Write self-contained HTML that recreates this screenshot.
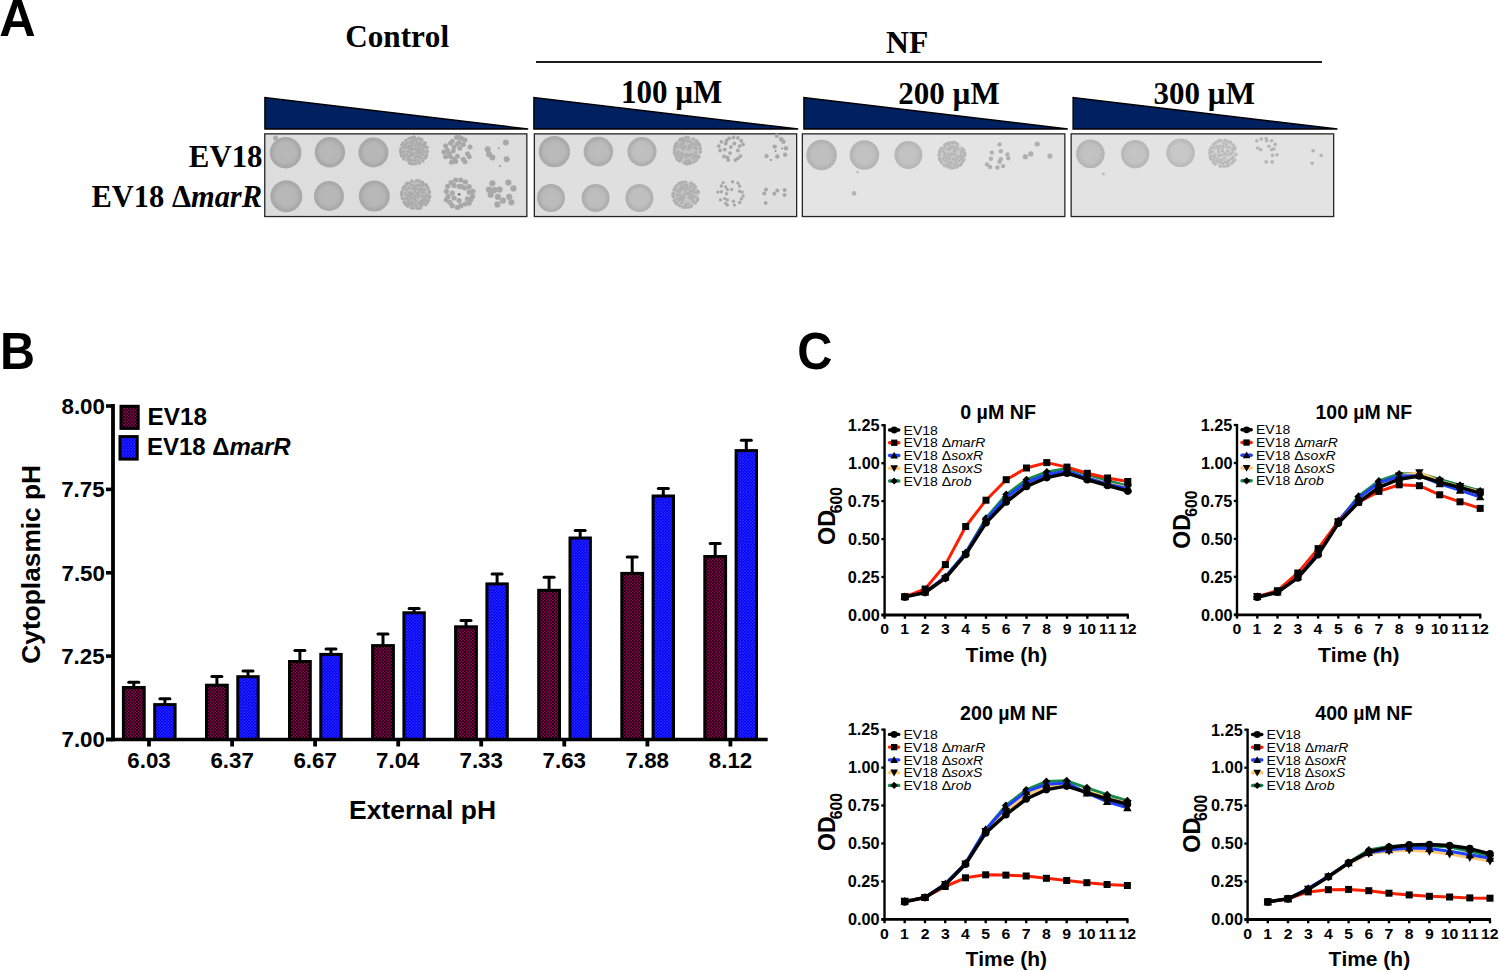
<!DOCTYPE html>
<html><head><meta charset="utf-8"><style>
html,body{margin:0;padding:0;background:#fff;}
svg{display:block;}
text{font-family:"Liberation Sans",sans-serif;}
</style></head><body>
<svg width="1499" height="972" viewBox="0 0 1499 972">
<defs>
<pattern id="pm" width="3.2" height="3.2" patternUnits="userSpaceOnUse"><rect width="3.2" height="3.2" fill="#0a0008"/><rect width="1.6" height="1.6" fill="#950050"/><rect x="1.6" y="1.6" width="1.6" height="1.6" fill="#950050"/></pattern>
<pattern id="pb" width="3.1" height="3.1" patternUnits="userSpaceOnUse"><rect width="3.1" height="3.1" fill="#0000ff"/><rect x="0.4" y="0.4" width="1" height="1" fill="#6262e0"/><rect x="1.95" y="1.95" width="1" height="1" fill="#6262e0"/></pattern>
<radialGradient id="g182_170"><stop offset="0" stop-color="rgb(185,185,185)"/><stop offset="0.65" stop-color="rgb(182,182,182)"/><stop offset="0.85" stop-color="rgb(170,170,170)"/><stop offset="1" stop-color="rgb(168,168,168)"/></radialGradient><radialGradient id="g184_172"><stop offset="0" stop-color="rgb(187,187,187)"/><stop offset="0.65" stop-color="rgb(184,184,184)"/><stop offset="0.85" stop-color="rgb(172,172,172)"/><stop offset="1" stop-color="rgb(170,170,170)"/></radialGradient><radialGradient id="g186_174"><stop offset="0" stop-color="rgb(189,189,189)"/><stop offset="0.65" stop-color="rgb(186,186,186)"/><stop offset="0.85" stop-color="rgb(174,174,174)"/><stop offset="1" stop-color="rgb(172,172,172)"/></radialGradient><radialGradient id="g190_176"><stop offset="0" stop-color="rgb(193,193,193)"/><stop offset="0.65" stop-color="rgb(190,190,190)"/><stop offset="0.85" stop-color="rgb(176,176,176)"/><stop offset="1" stop-color="rgb(174,174,174)"/></radialGradient><radialGradient id="g188_176"><stop offset="0" stop-color="rgb(191,191,191)"/><stop offset="0.65" stop-color="rgb(188,188,188)"/><stop offset="0.85" stop-color="rgb(176,176,176)"/><stop offset="1" stop-color="rgb(174,174,174)"/></radialGradient><radialGradient id="g190_178"><stop offset="0" stop-color="rgb(193,193,193)"/><stop offset="0.65" stop-color="rgb(190,190,190)"/><stop offset="0.85" stop-color="rgb(178,178,178)"/><stop offset="1" stop-color="rgb(176,176,176)"/></radialGradient><radialGradient id="g190_180"><stop offset="0" stop-color="rgb(193,193,193)"/><stop offset="0.65" stop-color="rgb(190,190,190)"/><stop offset="0.85" stop-color="rgb(180,180,180)"/><stop offset="1" stop-color="rgb(178,178,178)"/></radialGradient><radialGradient id="g192_182"><stop offset="0" stop-color="rgb(195,195,195)"/><stop offset="0.65" stop-color="rgb(192,192,192)"/><stop offset="0.85" stop-color="rgb(182,182,182)"/><stop offset="1" stop-color="rgb(180,180,180)"/></radialGradient><radialGradient id="g193_184"><stop offset="0" stop-color="rgb(196,196,196)"/><stop offset="0.65" stop-color="rgb(193,193,193)"/><stop offset="0.85" stop-color="rgb(184,184,184)"/><stop offset="1" stop-color="rgb(182,182,182)"/></radialGradient><radialGradient id="g192_183"><stop offset="0" stop-color="rgb(195,195,195)"/><stop offset="0.65" stop-color="rgb(192,192,192)"/><stop offset="0.85" stop-color="rgb(183,183,183)"/><stop offset="1" stop-color="rgb(181,181,181)"/></radialGradient><radialGradient id="g194_185"><stop offset="0" stop-color="rgb(197,197,197)"/><stop offset="0.65" stop-color="rgb(194,194,194)"/><stop offset="0.85" stop-color="rgb(185,185,185)"/><stop offset="1" stop-color="rgb(183,183,183)"/></radialGradient><radialGradient id="g198_188"><stop offset="0" stop-color="rgb(201,201,201)"/><stop offset="0.65" stop-color="rgb(198,198,198)"/><stop offset="0.85" stop-color="rgb(188,188,188)"/><stop offset="1" stop-color="rgb(186,186,186)"/></radialGradient>
<filter id="bl" x="-20%" y="-20%" width="140%" height="140%"><feGaussianBlur stdDeviation="0.7"/></filter><filter id="bl2" x="-50%" y="-50%" width="200%" height="200%"><feGaussianBlur stdDeviation="0.5"/></filter><filter id="bl3" x="-10%" y="-10%" width="120%" height="120%"><feGaussianBlur stdDeviation="0.4"/></filter>
</defs>
<rect width="1499" height="972" fill="#fff"/>
<text transform="translate(-0.76,35.90) scale(0.9778,1)" style="font-size:51.59px;font-kerning:none"><tspan style='font-family:"Liberation Sans",sans-serif;font-weight:bold;font-style:normal'>A</tspan></text>
<text transform="translate(345.24,47.20) scale(1.0071,1)" style="font-size:30.94px;font-kerning:none"><tspan style='font-family:"Liberation Serif",serif;font-weight:bold;font-style:normal'>Control</tspan></text>
<text transform="translate(886.07,53.00) scale(0.9863,1)" style="font-size:32.06px;font-kerning:none"><tspan style='font-family:"Liberation Serif",serif;font-weight:bold;font-style:normal'>NF</tspan></text>
<rect x="536" y="61" width="786" height="2" fill="#1e1e1e"/>
<text transform="translate(620.92,102.80) scale(0.9504,1)" style="font-size:32.63px;font-kerning:none"><tspan style='font-family:"Liberation Serif",serif;font-weight:bold;font-style:normal'>100 µM</tspan></text>
<text transform="translate(898.26,103.80) scale(0.9734,1)" style="font-size:31.88px;font-kerning:none"><tspan style='font-family:"Liberation Serif",serif;font-weight:bold;font-style:normal'>200 µM</tspan></text>
<text transform="translate(1153.62,103.80) scale(0.9719,1)" style="font-size:31.88px;font-kerning:none"><tspan style='font-family:"Liberation Serif",serif;font-weight:bold;font-style:normal'>300 µM</tspan></text>
<text transform="translate(188.84,166.70) scale(1.0009,1)" style="font-size:30.83px;font-kerning:none"><tspan style='font-family:"Liberation Serif",serif;font-weight:bold;font-style:normal'>EV18</tspan></text>
<text transform="translate(91.54,207.00) scale(0.9782,1)" style="font-size:31.13px;font-kerning:none"><tspan style='font-family:"Liberation Serif",serif;font-weight:bold;font-style:normal'>EV18 Δ</tspan><tspan style='font-family:"Liberation Serif",serif;font-weight:bold;font-style:italic'>marR</tspan></text>
<polygon points="264.9,97.5 264.9,129 528.1999999999999,129" fill="#002060" stroke="#000" stroke-width="1.4"/>
<polygon points="533.9000000000001,97.5 533.9000000000001,129 798.1999999999999,129" fill="#002060" stroke="#000" stroke-width="1.4"/>
<polygon points="803.9000000000001,97.5 803.9000000000001,129 1067.8,129" fill="#002060" stroke="#000" stroke-width="1.4"/>
<polygon points="1073.1000000000001,97.5 1073.1000000000001,129 1337.3999999999999,129" fill="#002060" stroke="#000" stroke-width="1.4"/>
<rect x="264.75" y="133.85" width="262.1" height="82.7" fill="rgb(221,221,221)" stroke="#262626" stroke-width="1.3"/>
<rect x="534.35" y="133.85" width="262.29999999999995" height="82.7" fill="rgb(223,223,223)" stroke="#262626" stroke-width="1.3"/>
<rect x="802.35" y="133.85" width="262.4999999999999" height="82.7" fill="rgb(228,228,228)" stroke="#262626" stroke-width="1.3"/>
<rect x="1071.15" y="133.85" width="262.5" height="82.7" fill="rgb(227,227,227)" stroke="#262626" stroke-width="1.3"/>
<circle cx="285.6" cy="152.7" r="15.8" fill="url(#g182_170)" filter="url(#bl)"/>
<circle cx="329.9" cy="152.3" r="15.2" fill="url(#g182_170)" filter="url(#bl)"/>
<circle cx="373.4" cy="152.5" r="15" fill="url(#g182_170)" filter="url(#bl)"/>
<circle cx="414" cy="150.6" r="13.6" fill="rgb(191,191,191)" filter="url(#bl)"/>
<g filter="url(#bl3)">
<circle cx="427.4" cy="151.5" r="1.68" fill="rgb(171,171,171)"/>
<circle cx="426.7" cy="154.9" r="1.61" fill="rgb(171,171,171)"/>
<circle cx="426.1" cy="156.6" r="1.70" fill="rgb(171,171,171)"/>
<circle cx="425.1" cy="158.2" r="1.61" fill="rgb(171,171,171)"/>
<circle cx="422.9" cy="160.9" r="1.64" fill="rgb(171,171,171)"/>
<circle cx="419.5" cy="163.1" r="1.68" fill="rgb(171,171,171)"/>
<circle cx="415.8" cy="163.7" r="1.72" fill="rgb(171,171,171)"/>
<circle cx="412.6" cy="164.2" r="1.54" fill="rgb(171,171,171)"/>
<circle cx="410.8" cy="163.7" r="1.53" fill="rgb(171,171,171)"/>
<circle cx="409.4" cy="163.0" r="1.62" fill="rgb(171,171,171)"/>
<circle cx="403.4" cy="158.9" r="1.54" fill="rgb(171,171,171)"/>
<circle cx="401.5" cy="156.0" r="1.70" fill="rgb(171,171,171)"/>
<circle cx="400.8" cy="153.4" r="1.59" fill="rgb(171,171,171)"/>
<circle cx="400.5" cy="150.9" r="1.59" fill="rgb(171,171,171)"/>
<circle cx="400.8" cy="148.4" r="1.52" fill="rgb(171,171,171)"/>
<circle cx="401.6" cy="144.8" r="1.57" fill="rgb(171,171,171)"/>
<circle cx="402.8" cy="142.9" r="1.59" fill="rgb(171,171,171)"/>
<circle cx="405.8" cy="140.2" r="1.57" fill="rgb(171,171,171)"/>
<circle cx="408.7" cy="138.3" r="1.55" fill="rgb(171,171,171)"/>
<circle cx="411.3" cy="137.5" r="1.57" fill="rgb(171,171,171)"/>
<circle cx="414.0" cy="137.0" r="1.68" fill="rgb(171,171,171)"/>
<circle cx="414.6" cy="137.3" r="1.53" fill="rgb(171,171,171)"/>
<circle cx="418.9" cy="138.1" r="1.63" fill="rgb(171,171,171)"/>
<circle cx="421.3" cy="139.4" r="1.66" fill="rgb(171,171,171)"/>
<circle cx="422.0" cy="139.7" r="1.51" fill="rgb(171,171,171)"/>
<circle cx="424.7" cy="142.6" r="1.70" fill="rgb(171,171,171)"/>
<circle cx="425.3" cy="143.5" r="1.69" fill="rgb(171,171,171)"/>
<circle cx="427.2" cy="147.4" r="1.56" fill="rgb(171,171,171)"/>
<circle cx="416.4" cy="152.4" r="1.51" fill="rgb(171,171,171)"/>
<circle cx="415.5" cy="145.6" r="1.52" fill="rgb(171,171,171)"/>
<circle cx="406.3" cy="147.6" r="1.72" fill="rgb(171,171,171)"/>
<circle cx="417.9" cy="160.5" r="1.51" fill="rgb(171,171,171)"/>
<circle cx="420.8" cy="157.9" r="1.65" fill="rgb(171,171,171)"/>
<circle cx="415.5" cy="156.9" r="1.65" fill="rgb(171,171,171)"/>
<circle cx="420.1" cy="142.7" r="1.66" fill="rgb(171,171,171)"/>
<circle cx="413.0" cy="153.8" r="1.61" fill="rgb(171,171,171)"/>
<circle cx="414.4" cy="160.2" r="1.61" fill="rgb(171,171,171)"/>
<circle cx="408.2" cy="156.6" r="1.62" fill="rgb(171,171,171)"/>
<circle cx="422.3" cy="148.4" r="1.69" fill="rgb(171,171,171)"/>
<circle cx="410.5" cy="152.5" r="1.53" fill="rgb(171,171,171)"/>
<circle cx="419.4" cy="153.1" r="1.57" fill="rgb(171,171,171)"/>
<circle cx="409.1" cy="146.3" r="1.62" fill="rgb(171,171,171)"/>
<circle cx="418.9" cy="147.8" r="1.60" fill="rgb(171,171,171)"/>
<circle cx="410.6" cy="141.8" r="1.65" fill="rgb(171,171,171)"/>
<circle cx="423.8" cy="151.9" r="1.60" fill="rgb(171,171,171)"/>
<circle cx="403.5" cy="151.8" r="1.74" fill="rgb(171,171,171)"/>
<circle cx="422.2" cy="154.8" r="1.55" fill="rgb(171,171,171)"/>
<circle cx="413.2" cy="140.2" r="1.73" fill="rgb(171,171,171)"/>
<circle cx="404.4" cy="156.1" r="1.50" fill="rgb(171,171,171)"/>
<circle cx="412.9" cy="142.9" r="1.70" fill="rgb(171,171,171)"/>
<circle cx="408.1" cy="151.3" r="1.53" fill="rgb(171,171,171)"/>
<circle cx="410.8" cy="160.3" r="1.57" fill="rgb(171,171,171)"/>
<circle cx="422.4" cy="145.0" r="1.61" fill="rgb(171,171,171)"/>
<circle cx="419.6" cy="145.3" r="1.73" fill="rgb(171,171,171)"/>
<circle cx="415.8" cy="148.8" r="1.53" fill="rgb(171,171,171)"/>
<circle cx="407.1" cy="143.3" r="1.63" fill="rgb(171,171,171)"/>
<circle cx="411.8" cy="145.5" r="1.70" fill="rgb(171,171,171)"/>
<circle cx="403.7" cy="147.2" r="1.62" fill="rgb(171,171,171)"/>
<circle cx="412.4" cy="149.3" r="1.68" fill="rgb(171,171,171)"/>
<circle cx="417.1" cy="143.3" r="1.75" fill="rgb(171,171,171)"/>
<circle cx="421.4" cy="151.1" r="1.70" fill="rgb(171,171,171)"/>
<circle cx="406.3" cy="154.3" r="1.56" fill="rgb(171,171,171)"/>
<circle cx="416.5" cy="139.9" r="1.58" fill="rgb(171,171,171)"/>
<circle cx="418.2" cy="156.1" r="1.64" fill="rgb(171,171,171)"/>
<circle cx="408.3" cy="159.2" r="1.69" fill="rgb(171,171,171)"/>
<circle cx="418.3" cy="150.4" r="1.75" fill="rgb(171,171,171)"/>
<circle cx="409.9" cy="148.8" r="1.71" fill="rgb(171,171,171)"/>
<circle cx="424.6" cy="146.6" r="1.70" fill="rgb(171,171,171)"/>
<circle cx="410.8" cy="155.6" r="1.65" fill="rgb(171,171,171)"/>
<circle cx="405.1" cy="145.0" r="1.68" fill="rgb(171,171,171)"/>
</g>
<circle cx="456.6" cy="137.4" r="2.5" fill="rgb(168,168,168)" filter="url(#bl2)"/>
<circle cx="461.6" cy="138.6" r="2.5" fill="rgb(168,168,168)" filter="url(#bl2)"/>
<circle cx="465.0" cy="139.9" r="2.5" fill="rgb(168,168,168)" filter="url(#bl2)"/>
<circle cx="452.3" cy="141.2" r="2.5" fill="rgb(168,168,168)" filter="url(#bl2)"/>
<circle cx="459.1" cy="142.4" r="2.5" fill="rgb(168,168,168)" filter="url(#bl2)"/>
<circle cx="450.6" cy="143.3" r="2.5" fill="rgb(168,168,168)" filter="url(#bl2)"/>
<circle cx="457.4" cy="144.1" r="2.5" fill="rgb(168,168,168)" filter="url(#bl2)"/>
<circle cx="463.3" cy="144.5" r="2.5" fill="rgb(168,168,168)" filter="url(#bl2)"/>
<circle cx="470.0" cy="147.1" r="2.5" fill="rgb(168,168,168)" filter="url(#bl2)"/>
<circle cx="445.6" cy="145.8" r="2.5" fill="rgb(168,168,168)" filter="url(#bl2)"/>
<circle cx="454.0" cy="147.1" r="2.5" fill="rgb(168,168,168)" filter="url(#bl2)"/>
<circle cx="459.9" cy="148.3" r="2.5" fill="rgb(168,168,168)" filter="url(#bl2)"/>
<circle cx="447.3" cy="150.0" r="2.5" fill="rgb(168,168,168)" filter="url(#bl2)"/>
<circle cx="453.2" cy="150.9" r="2.5" fill="rgb(168,168,168)" filter="url(#bl2)"/>
<circle cx="443.9" cy="152.1" r="2.5" fill="rgb(168,168,168)" filter="url(#bl2)"/>
<circle cx="467.5" cy="153.8" r="2.5" fill="rgb(168,168,168)" filter="url(#bl2)"/>
<circle cx="445.6" cy="156.8" r="2.5" fill="rgb(168,168,168)" filter="url(#bl2)"/>
<circle cx="450.6" cy="156.8" r="2.5" fill="rgb(168,168,168)" filter="url(#bl2)"/>
<circle cx="457.4" cy="156.3" r="2.5" fill="rgb(168,168,168)" filter="url(#bl2)"/>
<circle cx="469.2" cy="156.8" r="2.5" fill="rgb(168,168,168)" filter="url(#bl2)"/>
<circle cx="454.0" cy="159.3" r="2.5" fill="rgb(168,168,168)" filter="url(#bl2)"/>
<circle cx="463.3" cy="159.3" r="2.5" fill="rgb(168,168,168)" filter="url(#bl2)"/>
<circle cx="451.5" cy="162.2" r="2.5" fill="rgb(168,168,168)" filter="url(#bl2)"/>
<circle cx="465.0" cy="161.8" r="2.5" fill="rgb(168,168,168)" filter="url(#bl2)"/>
<circle cx="455.7" cy="161.4" r="2.5" fill="rgb(168,168,168)" filter="url(#bl2)"/>
<circle cx="459.5" cy="137.4" r="2.5" fill="rgb(168,168,168)" filter="url(#bl2)"/>
<circle cx="449.0" cy="153.4" r="2.5" fill="rgb(168,168,168)" filter="url(#bl2)"/>
<circle cx="505.9" cy="142.4" r="3.0" fill="rgb(168,168,168)" filter="url(#bl2)"/>
<circle cx="487.7" cy="149.2" r="3.0" fill="rgb(168,168,168)" filter="url(#bl2)"/>
<circle cx="489.0" cy="154.2" r="3.0" fill="rgb(168,168,168)" filter="url(#bl2)"/>
<circle cx="492.4" cy="157.6" r="3.0" fill="rgb(168,168,168)" filter="url(#bl2)"/>
<circle cx="506.7" cy="159.3" r="3.0" fill="rgb(168,168,168)" filter="url(#bl2)"/>
<circle cx="498.7" cy="148.3" r="0.8" fill="rgb(120,120,120)" filter="url(#bl2)"/>
<circle cx="500.0" cy="165.9" r="0.8" fill="rgb(120,120,120)" filter="url(#bl2)"/>
<circle cx="275.5" cy="138.1" r="2.5" fill="#ababab" filter="url(#bl2)"/>
<circle cx="286.3" cy="196.3" r="16" fill="url(#g182_170)" filter="url(#bl)"/>
<circle cx="329" cy="196" r="15" fill="url(#g182_170)" filter="url(#bl)"/>
<circle cx="374.3" cy="196" r="15.5" fill="url(#g182_170)" filter="url(#bl)"/>
<circle cx="415.7" cy="194.5" r="14.3" fill="rgb(191,191,191)" filter="url(#bl)"/>
<g filter="url(#bl3)">
<circle cx="429.9" cy="196.4" r="1.55" fill="rgb(171,171,171)"/>
<circle cx="429.4" cy="197.4" r="1.74" fill="rgb(171,171,171)"/>
<circle cx="428.8" cy="200.5" r="1.53" fill="rgb(171,171,171)"/>
<circle cx="427.5" cy="202.6" r="1.51" fill="rgb(171,171,171)"/>
<circle cx="425.8" cy="204.6" r="1.66" fill="rgb(171,171,171)"/>
<circle cx="420.9" cy="207.7" r="1.61" fill="rgb(171,171,171)"/>
<circle cx="419.3" cy="208.4" r="1.61" fill="rgb(171,171,171)"/>
<circle cx="416.5" cy="208.4" r="1.51" fill="rgb(171,171,171)"/>
<circle cx="412.6" cy="208.3" r="1.68" fill="rgb(171,171,171)"/>
<circle cx="410.9" cy="207.7" r="1.57" fill="rgb(171,171,171)"/>
<circle cx="407.7" cy="206.3" r="1.60" fill="rgb(171,171,171)"/>
<circle cx="405.8" cy="204.6" r="1.60" fill="rgb(171,171,171)"/>
<circle cx="404.6" cy="203.3" r="1.57" fill="rgb(171,171,171)"/>
<circle cx="403.8" cy="201.7" r="1.51" fill="rgb(171,171,171)"/>
<circle cx="402.2" cy="198.4" r="1.65" fill="rgb(171,171,171)"/>
<circle cx="401.4" cy="195.3" r="1.56" fill="rgb(171,171,171)"/>
<circle cx="401.6" cy="193.1" r="1.61" fill="rgb(171,171,171)"/>
<circle cx="401.9" cy="191.4" r="1.51" fill="rgb(171,171,171)"/>
<circle cx="403.2" cy="188.2" r="1.69" fill="rgb(171,171,171)"/>
<circle cx="404.4" cy="186.4" r="1.74" fill="rgb(171,171,171)"/>
<circle cx="406.3" cy="184.0" r="1.74" fill="rgb(171,171,171)"/>
<circle cx="407.5" cy="182.8" r="1.62" fill="rgb(171,171,171)"/>
<circle cx="411.8" cy="180.8" r="1.66" fill="rgb(171,171,171)"/>
<circle cx="416.4" cy="180.6" r="1.56" fill="rgb(171,171,171)"/>
<circle cx="418.7" cy="180.6" r="1.58" fill="rgb(171,171,171)"/>
<circle cx="420.9" cy="181.6" r="1.51" fill="rgb(171,171,171)"/>
<circle cx="422.6" cy="182.4" r="1.73" fill="rgb(171,171,171)"/>
<circle cx="425.9" cy="184.4" r="1.55" fill="rgb(171,171,171)"/>
<circle cx="427.2" cy="186.1" r="1.59" fill="rgb(171,171,171)"/>
<circle cx="428.3" cy="188.6" r="1.63" fill="rgb(171,171,171)"/>
<circle cx="429.4" cy="191.4" r="1.67" fill="rgb(171,171,171)"/>
<circle cx="429.5" cy="192.8" r="1.57" fill="rgb(171,171,171)"/>
<circle cx="418.8" cy="203.3" r="1.64" fill="rgb(171,171,171)"/>
<circle cx="405.5" cy="198.4" r="1.52" fill="rgb(171,171,171)"/>
<circle cx="418.7" cy="189.4" r="1.57" fill="rgb(171,171,171)"/>
<circle cx="408.2" cy="201.1" r="1.71" fill="rgb(171,171,171)"/>
<circle cx="412.2" cy="185.3" r="1.56" fill="rgb(171,171,171)"/>
<circle cx="422.0" cy="195.8" r="1.63" fill="rgb(171,171,171)"/>
<circle cx="421.7" cy="188.9" r="1.60" fill="rgb(171,171,171)"/>
<circle cx="423.6" cy="203.0" r="1.57" fill="rgb(171,171,171)"/>
<circle cx="406.3" cy="189.9" r="1.53" fill="rgb(171,171,171)"/>
<circle cx="418.1" cy="196.8" r="1.74" fill="rgb(171,171,171)"/>
<circle cx="412.5" cy="193.8" r="1.58" fill="rgb(171,171,171)"/>
<circle cx="416.0" cy="200.7" r="1.69" fill="rgb(171,171,171)"/>
<circle cx="410.9" cy="204.4" r="1.63" fill="rgb(171,171,171)"/>
<circle cx="415.9" cy="205.8" r="1.71" fill="rgb(171,171,171)"/>
<circle cx="414.9" cy="196.0" r="1.73" fill="rgb(171,171,171)"/>
<circle cx="424.8" cy="197.5" r="1.67" fill="rgb(171,171,171)"/>
<circle cx="415.0" cy="191.6" r="1.53" fill="rgb(171,171,171)"/>
<circle cx="410.9" cy="198.1" r="1.59" fill="rgb(171,171,171)"/>
<circle cx="421.0" cy="201.5" r="1.61" fill="rgb(171,171,171)"/>
<circle cx="415.1" cy="186.2" r="1.56" fill="rgb(171,171,171)"/>
<circle cx="420.2" cy="185.0" r="1.72" fill="rgb(171,171,171)"/>
<circle cx="409.6" cy="192.6" r="1.69" fill="rgb(171,171,171)"/>
<circle cx="420.2" cy="191.7" r="1.64" fill="rgb(171,171,171)"/>
<circle cx="421.4" cy="204.6" r="1.74" fill="rgb(171,171,171)"/>
<circle cx="423.0" cy="185.1" r="1.65" fill="rgb(171,171,171)"/>
<circle cx="423.5" cy="192.3" r="1.55" fill="rgb(171,171,171)"/>
<circle cx="417.6" cy="185.5" r="1.69" fill="rgb(171,171,171)"/>
<circle cx="409.9" cy="183.6" r="1.52" fill="rgb(171,171,171)"/>
<circle cx="412.8" cy="188.6" r="1.70" fill="rgb(171,171,171)"/>
<circle cx="413.8" cy="203.8" r="1.59" fill="rgb(171,171,171)"/>
<circle cx="407.3" cy="195.3" r="1.58" fill="rgb(171,171,171)"/>
<circle cx="408.7" cy="188.0" r="1.70" fill="rgb(171,171,171)"/>
<circle cx="411.9" cy="202.0" r="1.69" fill="rgb(171,171,171)"/>
<circle cx="424.2" cy="189.5" r="1.62" fill="rgb(171,171,171)"/>
<circle cx="405.3" cy="193.5" r="1.56" fill="rgb(171,171,171)"/>
<circle cx="423.2" cy="200.2" r="1.73" fill="rgb(171,171,171)"/>
<circle cx="417.6" cy="193.6" r="1.60" fill="rgb(171,171,171)"/>
<circle cx="410.5" cy="195.5" r="1.69" fill="rgb(171,171,171)"/>
<circle cx="426.7" cy="195.3" r="1.74" fill="rgb(171,171,171)"/>
<circle cx="415.4" cy="189.0" r="1.73" fill="rgb(171,171,171)"/>
<circle cx="414.2" cy="198.7" r="1.74" fill="rgb(171,171,171)"/>
<circle cx="425.9" cy="200.3" r="1.56" fill="rgb(171,171,171)"/>
<circle cx="408.3" cy="203.8" r="1.69" fill="rgb(171,171,171)"/>
<circle cx="408.2" cy="198.4" r="1.60" fill="rgb(171,171,171)"/>
</g>
<circle cx="455.7" cy="180.0" r="2.6" fill="rgb(168,168,168)" filter="url(#bl2)"/>
<circle cx="460.8" cy="180.0" r="2.6" fill="rgb(168,168,168)" filter="url(#bl2)"/>
<circle cx="465.4" cy="182.1" r="2.6" fill="rgb(168,168,168)" filter="url(#bl2)"/>
<circle cx="451.1" cy="182.5" r="2.6" fill="rgb(168,168,168)" filter="url(#bl2)"/>
<circle cx="469.2" cy="186.7" r="2.6" fill="rgb(168,168,168)" filter="url(#bl2)"/>
<circle cx="447.7" cy="186.3" r="2.6" fill="rgb(168,168,168)" filter="url(#bl2)"/>
<circle cx="454.0" cy="185.4" r="2.6" fill="rgb(168,168,168)" filter="url(#bl2)"/>
<circle cx="461.6" cy="186.7" r="2.6" fill="rgb(168,168,168)" filter="url(#bl2)"/>
<circle cx="473.0" cy="191.3" r="2.6" fill="rgb(168,168,168)" filter="url(#bl2)"/>
<circle cx="446.4" cy="191.3" r="2.6" fill="rgb(168,168,168)" filter="url(#bl2)"/>
<circle cx="452.3" cy="193.0" r="2.6" fill="rgb(168,168,168)" filter="url(#bl2)"/>
<circle cx="469.2" cy="192.2" r="2.6" fill="rgb(168,168,168)" filter="url(#bl2)"/>
<circle cx="472.6" cy="196.4" r="2.6" fill="rgb(168,168,168)" filter="url(#bl2)"/>
<circle cx="448.1" cy="196.4" r="2.6" fill="rgb(168,168,168)" filter="url(#bl2)"/>
<circle cx="454.0" cy="198.1" r="2.6" fill="rgb(168,168,168)" filter="url(#bl2)"/>
<circle cx="467.5" cy="198.9" r="2.6" fill="rgb(168,168,168)" filter="url(#bl2)"/>
<circle cx="449.8" cy="202.3" r="2.6" fill="rgb(168,168,168)" filter="url(#bl2)"/>
<circle cx="459.1" cy="200.6" r="2.6" fill="rgb(168,168,168)" filter="url(#bl2)"/>
<circle cx="460.8" cy="205.7" r="2.6" fill="rgb(168,168,168)" filter="url(#bl2)"/>
<circle cx="465.0" cy="204.0" r="2.6" fill="rgb(168,168,168)" filter="url(#bl2)"/>
<circle cx="457.4" cy="207.4" r="2.6" fill="rgb(168,168,168)" filter="url(#bl2)"/>
<circle cx="469.2" cy="203.1" r="2.6" fill="rgb(168,168,168)" filter="url(#bl2)"/>
<circle cx="446.4" cy="199.8" r="2.6" fill="rgb(168,168,168)" filter="url(#bl2)"/>
<circle cx="459.1" cy="186.3" r="2.6" fill="rgb(168,168,168)" filter="url(#bl2)"/>
<circle cx="465.0" cy="188.0" r="2.6" fill="rgb(168,168,168)" filter="url(#bl2)"/>
<circle cx="470.9" cy="199.8" r="2.6" fill="rgb(168,168,168)" filter="url(#bl2)"/>
<circle cx="452.3" cy="205.7" r="2.6" fill="rgb(168,168,168)" filter="url(#bl2)"/>
<circle cx="459.1" cy="194.3" r="1.4" fill="rgb(120,120,120)" filter="url(#bl2)"/>
<circle cx="492.4" cy="183.3" r="3.1" fill="rgb(168,168,168)" filter="url(#bl2)"/>
<circle cx="508.4" cy="182.5" r="3.1" fill="rgb(168,168,168)" filter="url(#bl2)"/>
<circle cx="513.5" cy="188.4" r="3.1" fill="rgb(168,168,168)" filter="url(#bl2)"/>
<circle cx="489.0" cy="189.6" r="3.1" fill="rgb(168,168,168)" filter="url(#bl2)"/>
<circle cx="494.5" cy="190.1" r="3.1" fill="rgb(168,168,168)" filter="url(#bl2)"/>
<circle cx="499.6" cy="189.6" r="3.1" fill="rgb(168,168,168)" filter="url(#bl2)"/>
<circle cx="490.7" cy="194.7" r="3.1" fill="rgb(168,168,168)" filter="url(#bl2)"/>
<circle cx="497.9" cy="196.8" r="3.1" fill="rgb(168,168,168)" filter="url(#bl2)"/>
<circle cx="509.2" cy="196.8" r="3.1" fill="rgb(168,168,168)" filter="url(#bl2)"/>
<circle cx="502.9" cy="200.6" r="3.1" fill="rgb(168,168,168)" filter="url(#bl2)"/>
<circle cx="511.4" cy="202.3" r="3.1" fill="rgb(168,168,168)" filter="url(#bl2)"/>
<circle cx="497.4" cy="204.4" r="3.1" fill="rgb(168,168,168)" filter="url(#bl2)"/>
<circle cx="554.4" cy="151.6" r="15.7" fill="url(#g184_172)" filter="url(#bl)"/>
<circle cx="598.4" cy="151.6" r="14.8" fill="url(#g186_174)" filter="url(#bl)"/>
<circle cx="642" cy="151.6" r="14.6" fill="url(#g190_176)" filter="url(#bl)"/>
<circle cx="687.4" cy="150.5" r="13.4" fill="rgb(194,194,194)" filter="url(#bl)"/>
<g filter="url(#bl3)">
<circle cx="700.6" cy="151.9" r="1.60" fill="rgb(174,174,174)"/>
<circle cx="699.0" cy="156.6" r="1.62" fill="rgb(174,174,174)"/>
<circle cx="698.1" cy="157.9" r="1.61" fill="rgb(174,174,174)"/>
<circle cx="696.3" cy="160.4" r="1.52" fill="rgb(174,174,174)"/>
<circle cx="693.9" cy="162.1" r="1.59" fill="rgb(174,174,174)"/>
<circle cx="690.7" cy="163.2" r="1.61" fill="rgb(174,174,174)"/>
<circle cx="689.5" cy="163.6" r="1.63" fill="rgb(174,174,174)"/>
<circle cx="687.0" cy="164.0" r="1.71" fill="rgb(174,174,174)"/>
<circle cx="684.5" cy="163.3" r="1.65" fill="rgb(174,174,174)"/>
<circle cx="679.6" cy="161.2" r="1.59" fill="rgb(174,174,174)"/>
<circle cx="677.3" cy="159.4" r="1.74" fill="rgb(174,174,174)"/>
<circle cx="676.2" cy="157.3" r="1.52" fill="rgb(174,174,174)"/>
<circle cx="674.9" cy="154.8" r="1.54" fill="rgb(174,174,174)"/>
<circle cx="674.4" cy="152.2" r="1.72" fill="rgb(174,174,174)"/>
<circle cx="674.2" cy="149.3" r="1.55" fill="rgb(174,174,174)"/>
<circle cx="674.9" cy="146.5" r="1.67" fill="rgb(174,174,174)"/>
<circle cx="675.9" cy="144.5" r="1.73" fill="rgb(174,174,174)"/>
<circle cx="676.5" cy="143.2" r="1.71" fill="rgb(174,174,174)"/>
<circle cx="679.3" cy="140.3" r="1.63" fill="rgb(174,174,174)"/>
<circle cx="680.6" cy="138.9" r="1.57" fill="rgb(174,174,174)"/>
<circle cx="683.0" cy="138.2" r="1.74" fill="rgb(174,174,174)"/>
<circle cx="686.2" cy="137.1" r="1.51" fill="rgb(174,174,174)"/>
<circle cx="688.4" cy="137.5" r="1.58" fill="rgb(174,174,174)"/>
<circle cx="693.6" cy="138.8" r="1.58" fill="rgb(174,174,174)"/>
<circle cx="696.3" cy="140.5" r="1.53" fill="rgb(174,174,174)"/>
<circle cx="697.4" cy="141.6" r="1.66" fill="rgb(174,174,174)"/>
<circle cx="699.2" cy="144.3" r="1.69" fill="rgb(174,174,174)"/>
<circle cx="699.8" cy="145.8" r="1.57" fill="rgb(174,174,174)"/>
<circle cx="700.5" cy="148.7" r="1.63" fill="rgb(174,174,174)"/>
<circle cx="680.3" cy="144.4" r="1.51" fill="rgb(174,174,174)"/>
<circle cx="692.3" cy="154.7" r="1.59" fill="rgb(174,174,174)"/>
<circle cx="689.0" cy="146.1" r="1.69" fill="rgb(174,174,174)"/>
<circle cx="695.8" cy="156.1" r="1.63" fill="rgb(174,174,174)"/>
<circle cx="688.3" cy="148.9" r="1.52" fill="rgb(174,174,174)"/>
<circle cx="685.2" cy="146.5" r="1.58" fill="rgb(174,174,174)"/>
<circle cx="689.5" cy="155.3" r="1.58" fill="rgb(174,174,174)"/>
<circle cx="693.7" cy="157.9" r="1.71" fill="rgb(174,174,174)"/>
<circle cx="696.3" cy="148.7" r="1.72" fill="rgb(174,174,174)"/>
<circle cx="688.8" cy="160.7" r="1.74" fill="rgb(174,174,174)"/>
<circle cx="695.6" cy="152.6" r="1.59" fill="rgb(174,174,174)"/>
<circle cx="690.6" cy="141.5" r="1.61" fill="rgb(174,174,174)"/>
<circle cx="678.1" cy="151.8" r="1.66" fill="rgb(174,174,174)"/>
<circle cx="691.5" cy="144.2" r="1.51" fill="rgb(174,174,174)"/>
<circle cx="686.1" cy="157.6" r="1.59" fill="rgb(174,174,174)"/>
<circle cx="677.8" cy="147.1" r="1.68" fill="rgb(174,174,174)"/>
<circle cx="683.6" cy="149.0" r="1.58" fill="rgb(174,174,174)"/>
<circle cx="683.1" cy="143.4" r="1.60" fill="rgb(174,174,174)"/>
<circle cx="681.7" cy="153.3" r="1.59" fill="rgb(174,174,174)"/>
<circle cx="694.2" cy="143.8" r="1.59" fill="rgb(174,174,174)"/>
<circle cx="694.4" cy="147.0" r="1.56" fill="rgb(174,174,174)"/>
<circle cx="681.3" cy="158.2" r="1.59" fill="rgb(174,174,174)"/>
<circle cx="679.8" cy="156.0" r="1.72" fill="rgb(174,174,174)"/>
<circle cx="687.7" cy="141.2" r="1.58" fill="rgb(174,174,174)"/>
<circle cx="690.8" cy="148.0" r="1.66" fill="rgb(174,174,174)"/>
<circle cx="686.7" cy="154.8" r="1.68" fill="rgb(174,174,174)"/>
<circle cx="685.1" cy="140.2" r="1.56" fill="rgb(174,174,174)"/>
<circle cx="696.7" cy="144.5" r="1.57" fill="rgb(174,174,174)"/>
<circle cx="681.9" cy="147.0" r="1.71" fill="rgb(174,174,174)"/>
<circle cx="686.3" cy="161.4" r="1.55" fill="rgb(174,174,174)"/>
<circle cx="683.9" cy="155.3" r="1.57" fill="rgb(174,174,174)"/>
<circle cx="677.7" cy="154.4" r="1.65" fill="rgb(174,174,174)"/>
<circle cx="682.3" cy="140.9" r="1.64" fill="rgb(174,174,174)"/>
</g>
<circle cx="721.4" cy="141.8" r="1.9" fill="rgb(168,168,168)" filter="url(#bl2)"/>
<circle cx="726.6" cy="140.5" r="1.9" fill="rgb(168,168,168)" filter="url(#bl2)"/>
<circle cx="729.2" cy="138.3" r="1.9" fill="rgb(168,168,168)" filter="url(#bl2)"/>
<circle cx="733.5" cy="137.5" r="1.9" fill="rgb(168,168,168)" filter="url(#bl2)"/>
<circle cx="737.9" cy="137.9" r="1.9" fill="rgb(168,168,168)" filter="url(#bl2)"/>
<circle cx="741.3" cy="140.9" r="1.9" fill="rgb(168,168,168)" filter="url(#bl2)"/>
<circle cx="743.1" cy="144.4" r="1.9" fill="rgb(168,168,168)" filter="url(#bl2)"/>
<circle cx="739.6" cy="146.1" r="1.9" fill="rgb(168,168,168)" filter="url(#bl2)"/>
<circle cx="734.4" cy="143.5" r="1.9" fill="rgb(168,168,168)" filter="url(#bl2)"/>
<circle cx="730.9" cy="147.0" r="1.9" fill="rgb(168,168,168)" filter="url(#bl2)"/>
<circle cx="725.7" cy="143.5" r="1.9" fill="rgb(168,168,168)" filter="url(#bl2)"/>
<circle cx="718.8" cy="146.1" r="1.9" fill="rgb(168,168,168)" filter="url(#bl2)"/>
<circle cx="720.1" cy="150.5" r="1.9" fill="rgb(168,168,168)" filter="url(#bl2)"/>
<circle cx="724.8" cy="149.6" r="1.9" fill="rgb(168,168,168)" filter="url(#bl2)"/>
<circle cx="730.0" cy="153.1" r="1.9" fill="rgb(168,168,168)" filter="url(#bl2)"/>
<circle cx="737.9" cy="150.5" r="1.9" fill="rgb(168,168,168)" filter="url(#bl2)"/>
<circle cx="740.5" cy="156.1" r="1.9" fill="rgb(168,168,168)" filter="url(#bl2)"/>
<circle cx="724.0" cy="156.5" r="1.9" fill="rgb(168,168,168)" filter="url(#bl2)"/>
<circle cx="728.3" cy="160.0" r="1.9" fill="rgb(168,168,168)" filter="url(#bl2)"/>
<circle cx="735.3" cy="160.0" r="1.9" fill="rgb(168,168,168)" filter="url(#bl2)"/>
<circle cx="737.9" cy="158.3" r="1.9" fill="rgb(168,168,168)" filter="url(#bl2)"/>
<circle cx="727.4" cy="157.4" r="1.9" fill="rgb(168,168,168)" filter="url(#bl2)"/>
<circle cx="776.9" cy="135.7" r="2.2" fill="rgb(168,168,168)" filter="url(#bl2)"/>
<circle cx="781.2" cy="139.2" r="2.2" fill="rgb(168,168,168)" filter="url(#bl2)"/>
<circle cx="783.4" cy="141.8" r="2.2" fill="rgb(168,168,168)" filter="url(#bl2)"/>
<circle cx="774.7" cy="146.6" r="2.2" fill="rgb(168,168,168)" filter="url(#bl2)"/>
<circle cx="786.0" cy="148.3" r="2.2" fill="rgb(168,168,168)" filter="url(#bl2)"/>
<circle cx="766.5" cy="156.1" r="2.2" fill="rgb(168,168,168)" filter="url(#bl2)"/>
<circle cx="777.3" cy="156.5" r="2.2" fill="rgb(168,168,168)" filter="url(#bl2)"/>
<circle cx="785.1" cy="154.8" r="2.2" fill="rgb(168,168,168)" filter="url(#bl2)"/>
<circle cx="770.8" cy="160.0" r="0.9" fill="rgb(130,130,130)" filter="url(#bl2)"/>
<circle cx="782.1" cy="148.3" r="0.9" fill="rgb(130,130,130)" filter="url(#bl2)"/>
<circle cx="775.6" cy="150.9" r="0.9" fill="rgb(130,130,130)" filter="url(#bl2)"/>
<circle cx="551" cy="198" r="14" fill="url(#g186_174)" filter="url(#bl)"/>
<circle cx="595.6" cy="198" r="14" fill="url(#g188_176)" filter="url(#bl)"/>
<circle cx="639.4" cy="198" r="14" fill="url(#g190_178)" filter="url(#bl)"/>
<circle cx="685.8" cy="194.7" r="13.0" fill="rgb(196,196,196)" filter="url(#bl)"/>
<g filter="url(#bl3)">
<circle cx="697.8" cy="198.7" r="1.63" fill="rgb(176,176,176)"/>
<circle cx="697.4" cy="200.4" r="1.57" fill="rgb(176,176,176)"/>
<circle cx="695.4" cy="203.1" r="1.68" fill="rgb(176,176,176)"/>
<circle cx="691.4" cy="206.3" r="1.58" fill="rgb(176,176,176)"/>
<circle cx="689.0" cy="207.2" r="1.52" fill="rgb(176,176,176)"/>
<circle cx="686.3" cy="207.5" r="1.51" fill="rgb(176,176,176)"/>
<circle cx="684.7" cy="207.3" r="1.56" fill="rgb(176,176,176)"/>
<circle cx="682.5" cy="207.1" r="1.66" fill="rgb(176,176,176)"/>
<circle cx="679.6" cy="205.8" r="1.67" fill="rgb(176,176,176)"/>
<circle cx="676.8" cy="204.0" r="1.71" fill="rgb(176,176,176)"/>
<circle cx="675.7" cy="202.5" r="1.75" fill="rgb(176,176,176)"/>
<circle cx="674.3" cy="200.3" r="1.72" fill="rgb(176,176,176)"/>
<circle cx="673.1" cy="196.8" r="1.52" fill="rgb(176,176,176)"/>
<circle cx="673.0" cy="195.3" r="1.70" fill="rgb(176,176,176)"/>
<circle cx="673.0" cy="193.2" r="1.55" fill="rgb(176,176,176)"/>
<circle cx="673.7" cy="189.9" r="1.51" fill="rgb(176,176,176)"/>
<circle cx="675.1" cy="187.8" r="1.68" fill="rgb(176,176,176)"/>
<circle cx="676.7" cy="185.6" r="1.52" fill="rgb(176,176,176)"/>
<circle cx="679.1" cy="183.5" r="1.72" fill="rgb(176,176,176)"/>
<circle cx="680.4" cy="182.9" r="1.59" fill="rgb(176,176,176)"/>
<circle cx="682.8" cy="182.0" r="1.57" fill="rgb(176,176,176)"/>
<circle cx="685.6" cy="181.8" r="1.52" fill="rgb(176,176,176)"/>
<circle cx="691.2" cy="182.9" r="1.73" fill="rgb(176,176,176)"/>
<circle cx="693.7" cy="184.7" r="1.72" fill="rgb(176,176,176)"/>
<circle cx="695.6" cy="186.7" r="1.59" fill="rgb(176,176,176)"/>
<circle cx="698.0" cy="191.1" r="1.57" fill="rgb(176,176,176)"/>
<circle cx="698.5" cy="192.2" r="1.60" fill="rgb(176,176,176)"/>
<circle cx="688.0" cy="203.7" r="1.54" fill="rgb(176,176,176)"/>
<circle cx="694.0" cy="188.8" r="1.70" fill="rgb(176,176,176)"/>
<circle cx="694.0" cy="196.7" r="1.75" fill="rgb(176,176,176)"/>
<circle cx="679.7" cy="191.5" r="1.61" fill="rgb(176,176,176)"/>
<circle cx="677.0" cy="190.4" r="1.61" fill="rgb(176,176,176)"/>
<circle cx="677.1" cy="198.0" r="1.52" fill="rgb(176,176,176)"/>
<circle cx="685.5" cy="190.9" r="1.58" fill="rgb(176,176,176)"/>
<circle cx="677.6" cy="194.5" r="1.68" fill="rgb(176,176,176)"/>
<circle cx="693.1" cy="201.2" r="1.67" fill="rgb(176,176,176)"/>
<circle cx="681.4" cy="186.1" r="1.51" fill="rgb(176,176,176)"/>
<circle cx="690.8" cy="186.7" r="1.69" fill="rgb(176,176,176)"/>
<circle cx="678.7" cy="200.3" r="1.53" fill="rgb(176,176,176)"/>
<circle cx="691.1" cy="195.4" r="1.55" fill="rgb(176,176,176)"/>
<circle cx="680.6" cy="195.5" r="1.52" fill="rgb(176,176,176)"/>
<circle cx="695.9" cy="192.7" r="1.67" fill="rgb(176,176,176)"/>
<circle cx="690.6" cy="190.9" r="1.74" fill="rgb(176,176,176)"/>
<circle cx="684.2" cy="194.8" r="1.59" fill="rgb(176,176,176)"/>
<circle cx="683.5" cy="197.5" r="1.68" fill="rgb(176,176,176)"/>
<circle cx="687.9" cy="188.6" r="1.67" fill="rgb(176,176,176)"/>
<circle cx="680.6" cy="198.1" r="1.58" fill="rgb(176,176,176)"/>
<circle cx="682.4" cy="200.1" r="1.59" fill="rgb(176,176,176)"/>
<circle cx="686.9" cy="185.3" r="1.73" fill="rgb(176,176,176)"/>
<circle cx="680.1" cy="188.6" r="1.54" fill="rgb(176,176,176)"/>
<circle cx="689.2" cy="193.6" r="1.60" fill="rgb(176,176,176)"/>
<circle cx="685.3" cy="187.7" r="1.53" fill="rgb(176,176,176)"/>
<circle cx="683.9" cy="185.1" r="1.52" fill="rgb(176,176,176)"/>
<circle cx="681.5" cy="202.8" r="1.59" fill="rgb(176,176,176)"/>
<circle cx="691.6" cy="198.7" r="1.61" fill="rgb(176,176,176)"/>
<circle cx="693.2" cy="191.9" r="1.73" fill="rgb(176,176,176)"/>
<circle cx="685.7" cy="204.9" r="1.63" fill="rgb(176,176,176)"/>
<circle cx="689.4" cy="197.5" r="1.72" fill="rgb(176,176,176)"/>
<circle cx="682.6" cy="188.8" r="1.74" fill="rgb(176,176,176)"/>
<circle cx="686.5" cy="193.7" r="1.61" fill="rgb(176,176,176)"/>
</g>
<circle cx="723.1" cy="182.6" r="1.7" fill="rgb(168,168,168)" filter="url(#bl2)"/>
<circle cx="721.4" cy="186.0" r="1.7" fill="rgb(168,168,168)" filter="url(#bl2)"/>
<circle cx="732.6" cy="181.7" r="1.7" fill="rgb(168,168,168)" filter="url(#bl2)"/>
<circle cx="737.9" cy="183.0" r="1.7" fill="rgb(168,168,168)" filter="url(#bl2)"/>
<circle cx="739.6" cy="186.0" r="1.7" fill="rgb(168,168,168)" filter="url(#bl2)"/>
<circle cx="725.7" cy="186.9" r="1.7" fill="rgb(168,168,168)" filter="url(#bl2)"/>
<circle cx="727.4" cy="189.5" r="1.7" fill="rgb(168,168,168)" filter="url(#bl2)"/>
<circle cx="731.8" cy="189.5" r="1.7" fill="rgb(168,168,168)" filter="url(#bl2)"/>
<circle cx="717.9" cy="192.1" r="1.7" fill="rgb(168,168,168)" filter="url(#bl2)"/>
<circle cx="721.4" cy="191.7" r="1.7" fill="rgb(168,168,168)" filter="url(#bl2)"/>
<circle cx="726.6" cy="193.8" r="1.7" fill="rgb(168,168,168)" filter="url(#bl2)"/>
<circle cx="739.6" cy="191.2" r="1.7" fill="rgb(168,168,168)" filter="url(#bl2)"/>
<circle cx="742.2" cy="192.1" r="1.7" fill="rgb(168,168,168)" filter="url(#bl2)"/>
<circle cx="743.1" cy="196.0" r="1.7" fill="rgb(168,168,168)" filter="url(#bl2)"/>
<circle cx="741.3" cy="199.0" r="1.7" fill="rgb(168,168,168)" filter="url(#bl2)"/>
<circle cx="720.5" cy="199.9" r="1.7" fill="rgb(168,168,168)" filter="url(#bl2)"/>
<circle cx="724.8" cy="198.6" r="1.7" fill="rgb(168,168,168)" filter="url(#bl2)"/>
<circle cx="727.4" cy="199.9" r="1.7" fill="rgb(168,168,168)" filter="url(#bl2)"/>
<circle cx="725.7" cy="203.4" r="1.7" fill="rgb(168,168,168)" filter="url(#bl2)"/>
<circle cx="733.5" cy="201.2" r="1.7" fill="rgb(168,168,168)" filter="url(#bl2)"/>
<circle cx="734.4" cy="205.1" r="1.7" fill="rgb(168,168,168)" filter="url(#bl2)"/>
<circle cx="727.4" cy="205.1" r="1.7" fill="rgb(168,168,168)" filter="url(#bl2)"/>
<circle cx="739.6" cy="202.5" r="1.7" fill="rgb(168,168,168)" filter="url(#bl2)"/>
<circle cx="766.0" cy="189.5" r="2.0" fill="rgb(168,168,168)" filter="url(#bl2)"/>
<circle cx="764.3" cy="193.4" r="2.0" fill="rgb(168,168,168)" filter="url(#bl2)"/>
<circle cx="777.3" cy="190.4" r="2.0" fill="rgb(168,168,168)" filter="url(#bl2)"/>
<circle cx="774.3" cy="193.8" r="2.0" fill="rgb(168,168,168)" filter="url(#bl2)"/>
<circle cx="784.7" cy="189.9" r="2.0" fill="rgb(168,168,168)" filter="url(#bl2)"/>
<circle cx="784.5" cy="195.1" r="2.0" fill="rgb(168,168,168)" filter="url(#bl2)"/>
<circle cx="765.6" cy="203.0" r="2.0" fill="rgb(168,168,168)" filter="url(#bl2)"/>
<circle cx="821.6" cy="155" r="15.3" fill="url(#g190_180)" filter="url(#bl)"/>
<circle cx="864.4" cy="155" r="14.8" fill="url(#g192_182)" filter="url(#bl)"/>
<circle cx="908.4" cy="155" r="14" fill="url(#g193_184)" filter="url(#bl)"/>
<circle cx="951.9" cy="155.2" r="12.9" fill="rgb(202,202,202)" filter="url(#bl)"/>
<g filter="url(#bl3)">
<circle cx="964.9" cy="155.4" r="1.66" fill="rgb(182,182,182)"/>
<circle cx="963.9" cy="159.4" r="1.71" fill="rgb(182,182,182)"/>
<circle cx="963.0" cy="161.3" r="1.74" fill="rgb(182,182,182)"/>
<circle cx="961.4" cy="163.9" r="1.68" fill="rgb(182,182,182)"/>
<circle cx="960.1" cy="165.3" r="1.72" fill="rgb(182,182,182)"/>
<circle cx="957.5" cy="166.4" r="1.54" fill="rgb(182,182,182)"/>
<circle cx="955.9" cy="167.5" r="1.60" fill="rgb(182,182,182)"/>
<circle cx="953.0" cy="168.0" r="1.60" fill="rgb(182,182,182)"/>
<circle cx="951.0" cy="168.1" r="1.66" fill="rgb(182,182,182)"/>
<circle cx="948.0" cy="167.3" r="1.51" fill="rgb(182,182,182)"/>
<circle cx="944.6" cy="165.7" r="1.71" fill="rgb(182,182,182)"/>
<circle cx="944.0" cy="165.2" r="1.53" fill="rgb(182,182,182)"/>
<circle cx="941.6" cy="162.9" r="1.65" fill="rgb(182,182,182)"/>
<circle cx="940.2" cy="160.4" r="1.58" fill="rgb(182,182,182)"/>
<circle cx="939.4" cy="158.7" r="1.67" fill="rgb(182,182,182)"/>
<circle cx="939.0" cy="155.3" r="1.72" fill="rgb(182,182,182)"/>
<circle cx="939.5" cy="152.5" r="1.59" fill="rgb(182,182,182)"/>
<circle cx="939.6" cy="151.2" r="1.70" fill="rgb(182,182,182)"/>
<circle cx="941.1" cy="148.6" r="1.74" fill="rgb(182,182,182)"/>
<circle cx="944.7" cy="144.5" r="1.52" fill="rgb(182,182,182)"/>
<circle cx="946.8" cy="143.5" r="1.63" fill="rgb(182,182,182)"/>
<circle cx="949.5" cy="142.6" r="1.71" fill="rgb(182,182,182)"/>
<circle cx="952.5" cy="142.5" r="1.68" fill="rgb(182,182,182)"/>
<circle cx="954.7" cy="142.5" r="1.63" fill="rgb(182,182,182)"/>
<circle cx="957.4" cy="143.7" r="1.61" fill="rgb(182,182,182)"/>
<circle cx="962.8" cy="148.6" r="1.53" fill="rgb(182,182,182)"/>
<circle cx="963.9" cy="150.4" r="1.64" fill="rgb(182,182,182)"/>
<circle cx="964.6" cy="153.2" r="1.69" fill="rgb(182,182,182)"/>
<circle cx="949.0" cy="145.1" r="1.64" fill="rgb(182,182,182)"/>
<circle cx="946.5" cy="157.8" r="1.56" fill="rgb(182,182,182)"/>
<circle cx="961.0" cy="154.7" r="1.56" fill="rgb(182,182,182)"/>
<circle cx="953.1" cy="158.9" r="1.58" fill="rgb(182,182,182)"/>
<circle cx="958.7" cy="160.6" r="1.69" fill="rgb(182,182,182)"/>
<circle cx="956.9" cy="156.5" r="1.67" fill="rgb(182,182,182)"/>
<circle cx="955.5" cy="161.6" r="1.55" fill="rgb(182,182,182)"/>
<circle cx="954.4" cy="154.2" r="1.58" fill="rgb(182,182,182)"/>
<circle cx="949.7" cy="165.3" r="1.74" fill="rgb(182,182,182)"/>
<circle cx="949.8" cy="155.9" r="1.69" fill="rgb(182,182,182)"/>
<circle cx="961.4" cy="159.0" r="1.69" fill="rgb(182,182,182)"/>
<circle cx="948.5" cy="149.6" r="1.73" fill="rgb(182,182,182)"/>
<circle cx="945.1" cy="160.8" r="1.52" fill="rgb(182,182,182)"/>
<circle cx="956.3" cy="147.1" r="1.56" fill="rgb(182,182,182)"/>
<circle cx="948.0" cy="154.0" r="1.65" fill="rgb(182,182,182)"/>
<circle cx="951.2" cy="162.5" r="1.70" fill="rgb(182,182,182)"/>
<circle cx="957.9" cy="149.3" r="1.53" fill="rgb(182,182,182)"/>
<circle cx="944.7" cy="155.9" r="1.61" fill="rgb(182,182,182)"/>
<circle cx="952.4" cy="146.2" r="1.52" fill="rgb(182,182,182)"/>
<circle cx="949.0" cy="159.0" r="1.70" fill="rgb(182,182,182)"/>
<circle cx="943.3" cy="150.9" r="1.62" fill="rgb(182,182,182)"/>
<circle cx="954.1" cy="164.9" r="1.69" fill="rgb(182,182,182)"/>
<circle cx="948.1" cy="162.1" r="1.57" fill="rgb(182,182,182)"/>
<circle cx="954.7" cy="151.2" r="1.61" fill="rgb(182,182,182)"/>
<circle cx="944.9" cy="147.2" r="1.55" fill="rgb(182,182,182)"/>
<circle cx="950.7" cy="148.1" r="1.56" fill="rgb(182,182,182)"/>
<circle cx="956.8" cy="163.8" r="1.52" fill="rgb(182,182,182)"/>
<circle cx="943.1" cy="158.9" r="1.55" fill="rgb(182,182,182)"/>
<circle cx="944.6" cy="153.4" r="1.53" fill="rgb(182,182,182)"/>
<circle cx="959.6" cy="156.9" r="1.70" fill="rgb(182,182,182)"/>
<circle cx="961.4" cy="151.6" r="1.57" fill="rgb(182,182,182)"/>
<circle cx="956.0" cy="158.9" r="1.54" fill="rgb(182,182,182)"/>
<circle cx="954.3" cy="148.6" r="1.64" fill="rgb(182,182,182)"/>
<circle cx="962.6" cy="156.7" r="1.53" fill="rgb(182,182,182)"/>
<circle cx="951.7" cy="154.1" r="1.54" fill="rgb(182,182,182)"/>
<circle cx="947.0" cy="164.5" r="1.58" fill="rgb(182,182,182)"/>
</g>
<circle cx="999.6" cy="144.4" r="2.2" fill="rgb(176,176,176)" filter="url(#bl2)"/>
<circle cx="991.8" cy="152.6" r="2.2" fill="rgb(176,176,176)" filter="url(#bl2)"/>
<circle cx="1000.9" cy="151.3" r="2.2" fill="rgb(176,176,176)" filter="url(#bl2)"/>
<circle cx="1007.4" cy="154.4" r="2.2" fill="rgb(176,176,176)" filter="url(#bl2)"/>
<circle cx="1008.3" cy="158.3" r="2.2" fill="rgb(176,176,176)" filter="url(#bl2)"/>
<circle cx="990.9" cy="158.7" r="2.2" fill="rgb(176,176,176)" filter="url(#bl2)"/>
<circle cx="1000.9" cy="159.2" r="2.2" fill="rgb(176,176,176)" filter="url(#bl2)"/>
<circle cx="999.6" cy="161.8" r="2.2" fill="rgb(176,176,176)" filter="url(#bl2)"/>
<circle cx="987.0" cy="164.4" r="2.2" fill="rgb(176,176,176)" filter="url(#bl2)"/>
<circle cx="990.1" cy="167.0" r="2.2" fill="rgb(176,176,176)" filter="url(#bl2)"/>
<circle cx="997.4" cy="167.4" r="2.2" fill="rgb(176,176,176)" filter="url(#bl2)"/>
<circle cx="1003.1" cy="166.1" r="2.2" fill="rgb(176,176,176)" filter="url(#bl2)"/>
<circle cx="1037.2" cy="144.0" r="2.6" fill="rgb(176,176,176)" filter="url(#bl2)"/>
<circle cx="1030.8" cy="153.9" r="2.6" fill="rgb(176,176,176)" filter="url(#bl2)"/>
<circle cx="1025.4" cy="156.7" r="2.6" fill="rgb(176,176,176)" filter="url(#bl2)"/>
<circle cx="1049.9" cy="156.1" r="2.6" fill="rgb(176,176,176)" filter="url(#bl2)"/>
<circle cx="854" cy="193.4" r="2.3" fill="#b4b4b4" filter="url(#bl2)"/><circle cx="857.6" cy="172" r="1.3" fill="#b8b8b8"/>
<circle cx="1090.4" cy="153.8" r="14.3" fill="url(#g192_183)" filter="url(#bl)"/>
<circle cx="1135.2" cy="154.1" r="14.2" fill="url(#g194_185)" filter="url(#bl)"/>
<circle cx="1180.6" cy="152.8" r="14.3" fill="url(#g198_188)" filter="url(#bl)"/>
<circle cx="1223" cy="153.4" r="13.4" fill="rgb(212,212,212)" filter="url(#bl)"/>
<g filter="url(#bl3)">
<circle cx="1236.1" cy="154.6" r="1.65" fill="rgb(186,186,186)"/>
<circle cx="1234.8" cy="159.8" r="1.59" fill="rgb(186,186,186)"/>
<circle cx="1233.5" cy="161.5" r="1.59" fill="rgb(186,186,186)"/>
<circle cx="1231.8" cy="163.3" r="1.56" fill="rgb(186,186,186)"/>
<circle cx="1228.8" cy="165.2" r="1.74" fill="rgb(186,186,186)"/>
<circle cx="1227.0" cy="166.1" r="1.60" fill="rgb(186,186,186)"/>
<circle cx="1224.1" cy="166.4" r="1.67" fill="rgb(186,186,186)"/>
<circle cx="1220.3" cy="166.3" r="1.75" fill="rgb(186,186,186)"/>
<circle cx="1215.1" cy="164.0" r="1.66" fill="rgb(186,186,186)"/>
<circle cx="1213.1" cy="162.3" r="1.61" fill="rgb(186,186,186)"/>
<circle cx="1211.0" cy="159.3" r="1.66" fill="rgb(186,186,186)"/>
<circle cx="1210.4" cy="158.1" r="1.61" fill="rgb(186,186,186)"/>
<circle cx="1209.9" cy="155.9" r="1.52" fill="rgb(186,186,186)"/>
<circle cx="1209.8" cy="153.0" r="1.75" fill="rgb(186,186,186)"/>
<circle cx="1210.0" cy="150.3" r="1.70" fill="rgb(186,186,186)"/>
<circle cx="1211.1" cy="147.6" r="1.72" fill="rgb(186,186,186)"/>
<circle cx="1213.3" cy="144.6" r="1.72" fill="rgb(186,186,186)"/>
<circle cx="1214.3" cy="143.5" r="1.55" fill="rgb(186,186,186)"/>
<circle cx="1216.1" cy="142.2" r="1.54" fill="rgb(186,186,186)"/>
<circle cx="1218.7" cy="140.8" r="1.73" fill="rgb(186,186,186)"/>
<circle cx="1220.6" cy="140.4" r="1.56" fill="rgb(186,186,186)"/>
<circle cx="1224.6" cy="140.2" r="1.57" fill="rgb(186,186,186)"/>
<circle cx="1226.4" cy="140.8" r="1.52" fill="rgb(186,186,186)"/>
<circle cx="1229.2" cy="141.6" r="1.69" fill="rgb(186,186,186)"/>
<circle cx="1230.6" cy="142.5" r="1.68" fill="rgb(186,186,186)"/>
<circle cx="1233.0" cy="144.8" r="1.66" fill="rgb(186,186,186)"/>
<circle cx="1234.5" cy="146.9" r="1.53" fill="rgb(186,186,186)"/>
<circle cx="1235.2" cy="148.5" r="1.52" fill="rgb(186,186,186)"/>
<circle cx="1232.3" cy="152.5" r="1.59" fill="rgb(186,186,186)"/>
<circle cx="1222.0" cy="155.0" r="1.55" fill="rgb(186,186,186)"/>
<circle cx="1214.0" cy="147.9" r="1.61" fill="rgb(186,186,186)"/>
<circle cx="1229.4" cy="147.3" r="1.55" fill="rgb(186,186,186)"/>
<circle cx="1226.6" cy="144.0" r="1.53" fill="rgb(186,186,186)"/>
<circle cx="1215.1" cy="155.0" r="1.74" fill="rgb(186,186,186)"/>
<circle cx="1218.0" cy="158.8" r="1.62" fill="rgb(186,186,186)"/>
<circle cx="1221.5" cy="159.8" r="1.66" fill="rgb(186,186,186)"/>
<circle cx="1219.5" cy="162.0" r="1.68" fill="rgb(186,186,186)"/>
<circle cx="1219.3" cy="155.4" r="1.65" fill="rgb(186,186,186)"/>
<circle cx="1227.8" cy="151.0" r="1.72" fill="rgb(186,186,186)"/>
<circle cx="1215.0" cy="157.6" r="1.52" fill="rgb(186,186,186)"/>
<circle cx="1222.3" cy="148.1" r="1.51" fill="rgb(186,186,186)"/>
<circle cx="1223.4" cy="145.5" r="1.58" fill="rgb(186,186,186)"/>
<circle cx="1230.2" cy="154.2" r="1.58" fill="rgb(186,186,186)"/>
<circle cx="1224.6" cy="153.2" r="1.56" fill="rgb(186,186,186)"/>
<circle cx="1212.4" cy="151.9" r="1.53" fill="rgb(186,186,186)"/>
<circle cx="1218.7" cy="151.9" r="1.64" fill="rgb(186,186,186)"/>
<circle cx="1231.5" cy="158.9" r="1.68" fill="rgb(186,186,186)"/>
<circle cx="1233.1" cy="156.9" r="1.51" fill="rgb(186,186,186)"/>
<circle cx="1222.5" cy="150.9" r="1.64" fill="rgb(186,186,186)"/>
<circle cx="1225.1" cy="161.7" r="1.54" fill="rgb(186,186,186)"/>
<circle cx="1216.7" cy="146.4" r="1.54" fill="rgb(186,186,186)"/>
<circle cx="1228.5" cy="160.6" r="1.59" fill="rgb(186,186,186)"/>
<circle cx="1226.6" cy="154.8" r="1.69" fill="rgb(186,186,186)"/>
<circle cx="1224.3" cy="158.0" r="1.53" fill="rgb(186,186,186)"/>
<circle cx="1220.0" cy="146.3" r="1.56" fill="rgb(186,186,186)"/>
<circle cx="1232.6" cy="149.5" r="1.74" fill="rgb(186,186,186)"/>
<circle cx="1222.5" cy="163.4" r="1.69" fill="rgb(186,186,186)"/>
<circle cx="1216.8" cy="161.1" r="1.70" fill="rgb(186,186,186)"/>
<circle cx="1218.4" cy="149.1" r="1.61" fill="rgb(186,186,186)"/>
<circle cx="1213.6" cy="159.7" r="1.55" fill="rgb(186,186,186)"/>
<circle cx="1212.7" cy="156.3" r="1.68" fill="rgb(186,186,186)"/>
<circle cx="1223.8" cy="142.8" r="1.55" fill="rgb(186,186,186)"/>
<circle cx="1226.7" cy="146.8" r="1.67" fill="rgb(186,186,186)"/>
<circle cx="1227.4" cy="162.9" r="1.69" fill="rgb(186,186,186)"/>
</g>
<circle cx="1256.8" cy="140.8" r="1.8" fill="rgb(180,180,180)" filter="url(#bl2)"/>
<circle cx="1261.3" cy="139.0" r="1.8" fill="rgb(180,180,180)" filter="url(#bl2)"/>
<circle cx="1266.2" cy="138.5" r="1.8" fill="rgb(180,180,180)" filter="url(#bl2)"/>
<circle cx="1266.7" cy="140.8" r="1.8" fill="rgb(180,180,180)" filter="url(#bl2)"/>
<circle cx="1271.6" cy="140.8" r="1.8" fill="rgb(180,180,180)" filter="url(#bl2)"/>
<circle cx="1275.2" cy="144.4" r="1.8" fill="rgb(180,180,180)" filter="url(#bl2)"/>
<circle cx="1268.9" cy="146.2" r="1.8" fill="rgb(180,180,180)" filter="url(#bl2)"/>
<circle cx="1257.7" cy="148.0" r="1.8" fill="rgb(180,180,180)" filter="url(#bl2)"/>
<circle cx="1260.8" cy="149.8" r="1.8" fill="rgb(180,180,180)" filter="url(#bl2)"/>
<circle cx="1271.6" cy="149.8" r="1.8" fill="rgb(180,180,180)" filter="url(#bl2)"/>
<circle cx="1273.9" cy="148.9" r="1.8" fill="rgb(180,180,180)" filter="url(#bl2)"/>
<circle cx="1272.5" cy="155.2" r="1.8" fill="rgb(180,180,180)" filter="url(#bl2)"/>
<circle cx="1277.0" cy="154.7" r="1.8" fill="rgb(180,180,180)" filter="url(#bl2)"/>
<circle cx="1266.2" cy="161.9" r="1.8" fill="rgb(180,180,180)" filter="url(#bl2)"/>
<circle cx="1272.1" cy="161.9" r="1.8" fill="rgb(180,180,180)" filter="url(#bl2)"/>
<circle cx="1313.1" cy="150.7" r="1.8" fill="rgb(180,180,180)" filter="url(#bl2)"/>
<circle cx="1321.2" cy="155.4" r="1.8" fill="rgb(180,180,180)" filter="url(#bl2)"/>
<circle cx="1312.2" cy="163.3" r="1.8" fill="rgb(180,180,180)" filter="url(#bl2)"/>
<circle cx="1103.4" cy="174.1" r="1.4" fill="#b6b6b6"/>
<text transform="translate(-0.05,368.70) scale(0.9405,1)" style="font-size:51.59px;font-kerning:none"><tspan style='font-family:"Liberation Sans",sans-serif;font-weight:bold;font-style:normal'>B</tspan></text>
<line x1="133.8" y1="682.3" x2="133.8" y2="687.0" stroke="#000" stroke-width="3"/>
<line x1="128.8" y1="682.3" x2="138.8" y2="682.3" stroke="#000" stroke-width="3" stroke-linecap="round"/>
<rect x="123.4" y="687.5" width="20.8" height="52.0" fill="url(#pm)" stroke="#000" stroke-width="3"/>
<line x1="164.9" y1="698.7" x2="164.9" y2="704.1" stroke="#000" stroke-width="3"/>
<line x1="159.9" y1="698.7" x2="169.9" y2="698.7" stroke="#000" stroke-width="3" stroke-linecap="round"/>
<rect x="154.7" y="704.6" width="20.4" height="34.9" fill="url(#pb)" stroke="#000" stroke-width="3"/>
<line x1="216.9" y1="676.4" x2="216.9" y2="684.7" stroke="#000" stroke-width="3"/>
<line x1="211.9" y1="676.4" x2="221.9" y2="676.4" stroke="#000" stroke-width="3" stroke-linecap="round"/>
<rect x="206.5" y="685.2" width="20.8" height="54.3" fill="url(#pm)" stroke="#000" stroke-width="3"/>
<line x1="248.0" y1="671.0" x2="248.0" y2="676.2" stroke="#000" stroke-width="3"/>
<line x1="243.0" y1="671.0" x2="253.0" y2="671.0" stroke="#000" stroke-width="3" stroke-linecap="round"/>
<rect x="237.8" y="676.7" width="20.4" height="62.8" fill="url(#pb)" stroke="#000" stroke-width="3"/>
<line x1="299.9" y1="650.6" x2="299.9" y2="661.0" stroke="#000" stroke-width="3"/>
<line x1="294.9" y1="650.6" x2="304.9" y2="650.6" stroke="#000" stroke-width="3" stroke-linecap="round"/>
<rect x="289.5" y="661.5" width="20.8" height="78.0" fill="url(#pm)" stroke="#000" stroke-width="3"/>
<line x1="331.0" y1="649.1" x2="331.0" y2="653.9" stroke="#000" stroke-width="3"/>
<line x1="326.0" y1="649.1" x2="336.0" y2="649.1" stroke="#000" stroke-width="3" stroke-linecap="round"/>
<rect x="320.8" y="654.4" width="20.4" height="85.1" fill="url(#pb)" stroke="#000" stroke-width="3"/>
<line x1="383.0" y1="634.0" x2="383.0" y2="645.1" stroke="#000" stroke-width="3"/>
<line x1="378.0" y1="634.0" x2="388.0" y2="634.0" stroke="#000" stroke-width="3" stroke-linecap="round"/>
<rect x="372.6" y="645.6" width="20.8" height="93.9" fill="url(#pm)" stroke="#000" stroke-width="3"/>
<line x1="414.1" y1="608.5" x2="414.1" y2="612.3" stroke="#000" stroke-width="3"/>
<line x1="409.1" y1="608.5" x2="419.1" y2="608.5" stroke="#000" stroke-width="3" stroke-linecap="round"/>
<rect x="403.9" y="612.8" width="20.4" height="126.7" fill="url(#pb)" stroke="#000" stroke-width="3"/>
<line x1="466.0" y1="620.4" x2="466.0" y2="626.3" stroke="#000" stroke-width="3"/>
<line x1="461.0" y1="620.4" x2="471.0" y2="620.4" stroke="#000" stroke-width="3" stroke-linecap="round"/>
<rect x="455.6" y="626.8" width="20.8" height="112.7" fill="url(#pm)" stroke="#000" stroke-width="3"/>
<line x1="497.1" y1="574.1" x2="497.1" y2="583.4" stroke="#000" stroke-width="3"/>
<line x1="492.1" y1="574.1" x2="502.1" y2="574.1" stroke="#000" stroke-width="3" stroke-linecap="round"/>
<rect x="486.9" y="583.9" width="20.4" height="155.6" fill="url(#pb)" stroke="#000" stroke-width="3"/>
<line x1="549.1" y1="577.2" x2="549.1" y2="589.8" stroke="#000" stroke-width="3"/>
<line x1="544.1" y1="577.2" x2="554.1" y2="577.2" stroke="#000" stroke-width="3" stroke-linecap="round"/>
<rect x="538.7" y="590.3" width="20.8" height="149.2" fill="url(#pm)" stroke="#000" stroke-width="3"/>
<line x1="580.2" y1="530.6" x2="580.2" y2="537.5" stroke="#000" stroke-width="3"/>
<line x1="575.2" y1="530.6" x2="585.2" y2="530.6" stroke="#000" stroke-width="3" stroke-linecap="round"/>
<rect x="570.0" y="538.0" width="20.4" height="201.5" fill="url(#pb)" stroke="#000" stroke-width="3"/>
<line x1="632.2" y1="557.0" x2="632.2" y2="572.9" stroke="#000" stroke-width="3"/>
<line x1="627.2" y1="557.0" x2="637.2" y2="557.0" stroke="#000" stroke-width="3" stroke-linecap="round"/>
<rect x="621.8" y="573.4" width="20.8" height="166.1" fill="url(#pm)" stroke="#000" stroke-width="3"/>
<line x1="663.3" y1="488.6" x2="663.3" y2="495.5" stroke="#000" stroke-width="3"/>
<line x1="658.3" y1="488.6" x2="668.3" y2="488.6" stroke="#000" stroke-width="3" stroke-linecap="round"/>
<rect x="653.1" y="496.0" width="20.4" height="243.5" fill="url(#pb)" stroke="#000" stroke-width="3"/>
<line x1="715.2" y1="543.4" x2="715.2" y2="556.0" stroke="#000" stroke-width="3"/>
<line x1="710.2" y1="543.4" x2="720.2" y2="543.4" stroke="#000" stroke-width="3" stroke-linecap="round"/>
<rect x="704.8" y="556.5" width="20.8" height="183.0" fill="url(#pm)" stroke="#000" stroke-width="3"/>
<line x1="746.3" y1="440.3" x2="746.3" y2="450.1" stroke="#000" stroke-width="3"/>
<line x1="741.3" y1="440.3" x2="751.3" y2="440.3" stroke="#000" stroke-width="3" stroke-linecap="round"/>
<rect x="736.1" y="450.6" width="20.4" height="288.9" fill="url(#pb)" stroke="#000" stroke-width="3"/>
<line x1="113" y1="404" x2="113" y2="741.2" stroke="#000" stroke-width="3.8"/>
<line x1="106" y1="739.5" x2="767.7" y2="739.5" stroke="#000" stroke-width="3.5"/>
<line x1="106" y1="406.0" x2="113" y2="406.0" stroke="#000" stroke-width="3.6"/>
<text transform="translate(61.47,413.80) scale(0.9750,1)" style="font-size:22.90px;font-kerning:none"><tspan style='font-family:"Liberation Sans",sans-serif;font-weight:bold;font-style:normal'>8.00</tspan></text>
<line x1="106" y1="489.4" x2="113" y2="489.4" stroke="#000" stroke-width="3.6"/>
<text transform="translate(61.13,497.18) scale(0.9750,1)" style="font-size:22.90px;font-kerning:none"><tspan style='font-family:"Liberation Sans",sans-serif;font-weight:bold;font-style:normal'>7.75</tspan></text>
<line x1="106" y1="572.8" x2="113" y2="572.8" stroke="#000" stroke-width="3.6"/>
<text transform="translate(61.47,580.55) scale(0.9750,1)" style="font-size:22.90px;font-kerning:none"><tspan style='font-family:"Liberation Sans",sans-serif;font-weight:bold;font-style:normal'>7.50</tspan></text>
<line x1="106" y1="656.1" x2="113" y2="656.1" stroke="#000" stroke-width="3.6"/>
<text transform="translate(61.13,663.92) scale(0.9750,1)" style="font-size:22.90px;font-kerning:none"><tspan style='font-family:"Liberation Sans",sans-serif;font-weight:bold;font-style:normal'>7.25</tspan></text>
<line x1="106" y1="739.5" x2="113" y2="739.5" stroke="#000" stroke-width="3.6"/>
<text transform="translate(61.47,747.30) scale(0.9750,1)" style="font-size:22.90px;font-kerning:none"><tspan style='font-family:"Liberation Sans",sans-serif;font-weight:bold;font-style:normal'>7.00</tspan></text>
<line x1="149.0" y1="739.5" x2="149.0" y2="746.5" stroke="#000" stroke-width="3.8"/>
<text transform="translate(127.29,768.10) scale(0.9750,1)" style="font-size:22.90px;font-kerning:none"><tspan style='font-family:"Liberation Sans",sans-serif;font-weight:bold;font-style:normal'>6.03</tspan></text>
<line x1="232.1" y1="739.5" x2="232.1" y2="746.5" stroke="#000" stroke-width="3.8"/>
<text transform="translate(210.40,768.10) scale(0.9750,1)" style="font-size:22.90px;font-kerning:none"><tspan style='font-family:"Liberation Sans",sans-serif;font-weight:bold;font-style:normal'>6.37</tspan></text>
<line x1="315.1" y1="739.5" x2="315.1" y2="746.5" stroke="#000" stroke-width="3.8"/>
<text transform="translate(293.46,768.10) scale(0.9750,1)" style="font-size:22.90px;font-kerning:none"><tspan style='font-family:"Liberation Sans",sans-serif;font-weight:bold;font-style:normal'>6.67</tspan></text>
<line x1="398.2" y1="739.5" x2="398.2" y2="746.5" stroke="#000" stroke-width="3.8"/>
<text transform="translate(376.08,768.10) scale(0.9750,1)" style="font-size:22.90px;font-kerning:none"><tspan style='font-family:"Liberation Sans",sans-serif;font-weight:bold;font-style:normal'>7.04</tspan></text>
<line x1="481.2" y1="739.5" x2="481.2" y2="746.5" stroke="#000" stroke-width="3.8"/>
<text transform="translate(459.47,768.10) scale(0.9750,1)" style="font-size:22.90px;font-kerning:none"><tspan style='font-family:"Liberation Sans",sans-serif;font-weight:bold;font-style:normal'>7.33</tspan></text>
<line x1="564.3" y1="739.5" x2="564.3" y2="746.5" stroke="#000" stroke-width="3.8"/>
<text transform="translate(542.53,768.10) scale(0.9750,1)" style="font-size:22.90px;font-kerning:none"><tspan style='font-family:"Liberation Sans",sans-serif;font-weight:bold;font-style:normal'>7.63</tspan></text>
<line x1="647.4" y1="739.5" x2="647.4" y2="746.5" stroke="#000" stroke-width="3.8"/>
<text transform="translate(625.53,768.10) scale(0.9750,1)" style="font-size:22.90px;font-kerning:none"><tspan style='font-family:"Liberation Sans",sans-serif;font-weight:bold;font-style:normal'>7.88</tspan></text>
<line x1="730.4" y1="739.5" x2="730.4" y2="746.5" stroke="#000" stroke-width="3.8"/>
<text transform="translate(708.82,768.10) scale(0.9750,1)" style="font-size:22.90px;font-kerning:none"><tspan style='font-family:"Liberation Sans",sans-serif;font-weight:bold;font-style:normal'>8.12</tspan></text>
<text transform="translate(40.00,663.65) rotate(-90) scale(0.9991,1)" style="font-size:26.34px;font-kerning:none"><tspan style='font-family:"Liberation Sans",sans-serif;font-weight:bold;font-style:normal'>Cytoplasmic pH</tspan></text>
<text transform="translate(349.08,818.90) scale(1.0140,1)" style="font-size:26.07px;font-kerning:none"><tspan style='font-family:"Liberation Sans",sans-serif;font-weight:bold;font-style:normal'>External pH</tspan></text>
<rect x="121" y="406.3" width="17.2" height="22.1" fill="url(#pm)" stroke="#000" stroke-width="3"/>
<rect x="120" y="436.6" width="17.2" height="22.5" fill="url(#pb)" stroke="#000" stroke-width="3"/>
<text transform="translate(147.52,425.06) scale(0.9972,1)" style="font-size:24.37px;font-kerning:none"><tspan style='font-family:"Liberation Sans",sans-serif;font-weight:bold;font-style:normal'>EV18</tspan></text>
<text transform="translate(146.94,455.46) scale(1.0189,1)" style="font-size:23.52px;font-kerning:none"><tspan style='font-family:"Liberation Sans",sans-serif;font-weight:bold;font-style:normal'>EV18 Δ</tspan><tspan style='font-family:"Liberation Sans",sans-serif;font-weight:bold;font-style:italic'>marR</tspan></text>
<text transform="translate(797.25,369.27) scale(0.9270,1)" style="font-size:52.54px;font-kerning:none"><tspan style='font-family:"Liberation Sans",sans-serif;font-weight:bold;font-style:normal'>C</tspan></text>
<line x1="884.6" y1="424.2" x2="884.6" y2="616.3" stroke="#000" stroke-width="2.4"/>
<line x1="881.6" y1="615.0" x2="1128.8" y2="615.0" stroke="#000" stroke-width="2.8"/>
<line x1="881.4" y1="615.0" x2="884.6" y2="615.0" stroke="#000" stroke-width="2.3"/>
<text transform="translate(848.11,620.80) scale(0.9800,1)" style="font-size:16.60px;font-kerning:none"><tspan style='font-family:"Liberation Sans",sans-serif;font-weight:bold;font-style:normal'>0.00</tspan></text>
<line x1="881.4" y1="577.0" x2="884.6" y2="577.0" stroke="#000" stroke-width="2.3"/>
<text transform="translate(847.87,582.84) scale(0.9800,1)" style="font-size:16.60px;font-kerning:none"><tspan style='font-family:"Liberation Sans",sans-serif;font-weight:bold;font-style:normal'>0.25</tspan></text>
<line x1="881.4" y1="539.1" x2="884.6" y2="539.1" stroke="#000" stroke-width="2.3"/>
<text transform="translate(848.11,544.88) scale(0.9800,1)" style="font-size:16.60px;font-kerning:none"><tspan style='font-family:"Liberation Sans",sans-serif;font-weight:bold;font-style:normal'>0.50</tspan></text>
<line x1="881.4" y1="501.1" x2="884.6" y2="501.1" stroke="#000" stroke-width="2.3"/>
<text transform="translate(847.87,506.92) scale(0.9800,1)" style="font-size:16.60px;font-kerning:none"><tspan style='font-family:"Liberation Sans",sans-serif;font-weight:bold;font-style:normal'>0.75</tspan></text>
<line x1="881.4" y1="463.2" x2="884.6" y2="463.2" stroke="#000" stroke-width="2.3"/>
<text transform="translate(848.11,468.96) scale(0.9800,1)" style="font-size:16.60px;font-kerning:none"><tspan style='font-family:"Liberation Sans",sans-serif;font-weight:bold;font-style:normal'>1.00</tspan></text>
<line x1="881.4" y1="425.2" x2="884.6" y2="425.2" stroke="#000" stroke-width="2.3"/>
<text transform="translate(847.87,431.00) scale(0.9800,1)" style="font-size:16.60px;font-kerning:none"><tspan style='font-family:"Liberation Sans",sans-serif;font-weight:bold;font-style:normal'>1.25</tspan></text>
<line x1="884.6" y1="615.0" x2="884.6" y2="618.8" stroke="#000" stroke-width="2.4"/>
<text transform="translate(880.21,634.40) scale(1.0400,1)" style="font-size:15.20px;font-kerning:none"><tspan style='font-family:"Liberation Sans",sans-serif;font-weight:bold;font-style:normal'>0</tspan></text>
<line x1="904.9" y1="615.0" x2="904.9" y2="618.8" stroke="#000" stroke-width="2.4"/>
<text transform="translate(900.21,634.40) scale(1.0400,1)" style="font-size:15.20px;font-kerning:none"><tspan style='font-family:"Liberation Sans",sans-serif;font-weight:bold;font-style:normal'>1</tspan></text>
<line x1="925.1" y1="615.0" x2="925.1" y2="618.8" stroke="#000" stroke-width="2.4"/>
<text transform="translate(920.79,634.40) scale(1.0400,1)" style="font-size:15.20px;font-kerning:none"><tspan style='font-family:"Liberation Sans",sans-serif;font-weight:bold;font-style:normal'>2</tspan></text>
<line x1="945.4" y1="615.0" x2="945.4" y2="618.8" stroke="#000" stroke-width="2.4"/>
<text transform="translate(941.10,634.40) scale(1.0400,1)" style="font-size:15.20px;font-kerning:none"><tspan style='font-family:"Liberation Sans",sans-serif;font-weight:bold;font-style:normal'>3</tspan></text>
<line x1="965.7" y1="615.0" x2="965.7" y2="618.8" stroke="#000" stroke-width="2.4"/>
<text transform="translate(961.21,634.40) scale(1.0400,1)" style="font-size:15.20px;font-kerning:none"><tspan style='font-family:"Liberation Sans",sans-serif;font-weight:bold;font-style:normal'>4</tspan></text>
<line x1="986.0" y1="615.0" x2="986.0" y2="618.8" stroke="#000" stroke-width="2.4"/>
<text transform="translate(981.52,634.40) scale(1.0400,1)" style="font-size:15.20px;font-kerning:none"><tspan style='font-family:"Liberation Sans",sans-serif;font-weight:bold;font-style:normal'>5</tspan></text>
<line x1="1006.2" y1="615.0" x2="1006.2" y2="618.8" stroke="#000" stroke-width="2.4"/>
<text transform="translate(1001.83,634.40) scale(1.0400,1)" style="font-size:15.20px;font-kerning:none"><tspan style='font-family:"Liberation Sans",sans-serif;font-weight:bold;font-style:normal'>6</tspan></text>
<line x1="1026.5" y1="615.0" x2="1026.5" y2="618.8" stroke="#000" stroke-width="2.4"/>
<text transform="translate(1022.10,634.40) scale(1.0400,1)" style="font-size:15.20px;font-kerning:none"><tspan style='font-family:"Liberation Sans",sans-serif;font-weight:bold;font-style:normal'>7</tspan></text>
<line x1="1046.8" y1="615.0" x2="1046.8" y2="618.8" stroke="#000" stroke-width="2.4"/>
<text transform="translate(1042.37,634.40) scale(1.0400,1)" style="font-size:15.20px;font-kerning:none"><tspan style='font-family:"Liberation Sans",sans-serif;font-weight:bold;font-style:normal'>8</tspan></text>
<line x1="1067.0" y1="615.0" x2="1067.0" y2="618.8" stroke="#000" stroke-width="2.4"/>
<text transform="translate(1062.64,634.40) scale(1.0400,1)" style="font-size:15.20px;font-kerning:none"><tspan style='font-family:"Liberation Sans",sans-serif;font-weight:bold;font-style:normal'>9</tspan></text>
<line x1="1087.3" y1="615.0" x2="1087.3" y2="618.8" stroke="#000" stroke-width="2.4"/>
<text transform="translate(1078.37,634.40) scale(1.0400,1)" style="font-size:15.20px;font-kerning:none"><tspan style='font-family:"Liberation Sans",sans-serif;font-weight:bold;font-style:normal'>10</tspan></text>
<line x1="1107.6" y1="615.0" x2="1107.6" y2="618.8" stroke="#000" stroke-width="2.4"/>
<text transform="translate(1098.95,634.40) scale(1.0400,1)" style="font-size:15.20px;font-kerning:none"><tspan style='font-family:"Liberation Sans",sans-serif;font-weight:bold;font-style:normal'>11</tspan></text>
<line x1="1127.8" y1="615.0" x2="1127.8" y2="618.8" stroke="#000" stroke-width="2.4"/>
<text transform="translate(1118.91,634.40) scale(1.0400,1)" style="font-size:15.20px;font-kerning:none"><tspan style='font-family:"Liberation Sans",sans-serif;font-weight:bold;font-style:normal'>12</tspan></text>
<text transform="translate(965.59,661.90) scale(1.0485,1)" style="font-size:20.00px;font-kerning:none"><tspan style='font-family:"Liberation Sans",sans-serif;font-weight:bold;font-style:normal'>Time (h)</tspan></text>
<text transform="translate(960.21,419.30) scale(0.9622,1)" style="font-size:20.43px;font-kerning:none"><tspan style='font-family:"Liberation Sans",sans-serif;font-weight:bold;font-style:normal'>0 µM NF</tspan></text>
<text transform="translate(835.10,545.04) rotate(-90) scale(1.0000,1)" style="font-size:23.43px;font-kerning:none"><tspan style='font-family:"Liberation Sans",sans-serif;font-weight:bold;font-style:normal'>OD</tspan></text>
<text transform="translate(842.00,513.15) rotate(-90) scale(0.9022,1)" style="font-size:17.43px;font-kerning:none"><tspan style='font-family:"Liberation Sans",sans-serif;font-weight:bold;font-style:normal'>600</tspan></text>
<polyline points="904.9,596.8 925.1,592.2 945.4,577.0 965.7,552.7 986.0,518.3 1006.2,494.6 1026.5,479.7 1046.8,472.0 1067.0,468.5 1087.3,474.5 1107.6,480.6 1127.8,485.9" fill="none" stroke="#158a4a" stroke-width="3.0" stroke-linejoin="round"/>
<polygon points="904.9,592.8 908.9,596.8 904.9,600.8 900.9,596.8" fill="#000"/>
<polygon points="925.1,588.2 929.1,592.2 925.1,596.2 921.1,592.2" fill="#000"/>
<polygon points="945.4,573.0 949.4,577.0 945.4,581.0 941.4,577.0" fill="#000"/>
<polygon points="965.7,548.7 969.7,552.7 965.7,556.7 961.7,552.7" fill="#000"/>
<polygon points="986.0,514.3 990.0,518.3 986.0,522.3 982.0,518.3" fill="#000"/>
<polygon points="1006.2,490.6 1010.2,494.6 1006.2,498.6 1002.2,494.6" fill="#000"/>
<polygon points="1026.5,475.7 1030.5,479.7 1026.5,483.7 1022.5,479.7" fill="#000"/>
<polygon points="1046.8,468.0 1050.8,472.0 1046.8,476.0 1042.8,472.0" fill="#000"/>
<polygon points="1067.0,464.5 1071.0,468.5 1067.0,472.5 1063.0,468.5" fill="#000"/>
<polygon points="1087.3,470.5 1091.3,474.5 1087.3,478.5 1083.3,474.5" fill="#000"/>
<polygon points="1107.6,476.6 1111.6,480.6 1107.6,484.6 1103.6,480.6" fill="#000"/>
<polygon points="1127.8,481.9 1131.8,485.9 1127.8,489.9 1123.8,485.9" fill="#000"/>
<polyline points="904.9,596.8 925.1,592.2 945.4,578.6 965.7,554.3 986.0,522.4 1006.2,499.6 1026.5,484.4 1046.8,476.1 1067.0,471.5 1087.3,477.6 1107.6,483.7 1127.8,487.5" fill="none" stroke="#ffc86e" stroke-width="2.8" stroke-linejoin="round"/>
<polygon points="904.9,601.0 909.1,593.4 900.7,593.4" fill="#000"/>
<polygon points="925.1,596.4 929.3,588.9 920.9,588.9" fill="#000"/>
<polygon points="945.4,582.8 949.6,575.2 941.2,575.2" fill="#000"/>
<polygon points="965.7,558.5 969.9,550.9 961.5,550.9" fill="#000"/>
<polygon points="986.0,526.6 990.2,519.0 981.8,519.0" fill="#000"/>
<polygon points="1006.2,503.8 1010.4,496.2 1002.0,496.2" fill="#000"/>
<polygon points="1026.5,488.6 1030.7,481.1 1022.3,481.1" fill="#000"/>
<polygon points="1046.8,480.3 1051.0,472.7 1042.6,472.7" fill="#000"/>
<polygon points="1067.0,475.7 1071.2,468.2 1062.8,468.2" fill="#000"/>
<polygon points="1087.3,481.8 1091.5,474.2 1083.1,474.2" fill="#000"/>
<polygon points="1107.6,487.9 1111.8,480.3 1103.4,480.3" fill="#000"/>
<polygon points="1127.8,491.7 1132.0,484.1 1123.6,484.1" fill="#000"/>
<polyline points="904.9,596.8 925.1,592.2 945.4,577.0 965.7,552.7 986.0,520.1 1006.2,497.2 1026.5,482.4 1046.8,474.5 1067.0,471.1 1087.3,478.0 1107.6,484.1 1127.8,488.5" fill="none" stroke="#1f3fff" stroke-width="3.0" stroke-linejoin="round"/>
<polygon points="904.9,592.6 909.1,600.1 900.7,600.1" fill="#000"/>
<polygon points="925.1,588.0 929.3,595.6 920.9,595.6" fill="#000"/>
<polygon points="945.4,572.8 949.6,580.4 941.2,580.4" fill="#000"/>
<polygon points="965.7,548.5 969.9,556.1 961.5,556.1" fill="#000"/>
<polygon points="986.0,515.9 990.2,523.5 981.8,523.5" fill="#000"/>
<polygon points="1006.2,493.0 1010.4,500.5 1002.0,500.5" fill="#000"/>
<polygon points="1026.5,478.2 1030.7,485.8 1022.3,485.8" fill="#000"/>
<polygon points="1046.8,470.3 1051.0,477.9 1042.6,477.9" fill="#000"/>
<polygon points="1067.0,466.9 1071.2,474.4 1062.8,474.4" fill="#000"/>
<polygon points="1087.3,473.8 1091.5,481.4 1083.1,481.4" fill="#000"/>
<polygon points="1107.6,479.9 1111.8,487.5 1103.4,487.5" fill="#000"/>
<polygon points="1127.8,484.3 1132.0,491.9 1123.6,491.9" fill="#000"/>
<polyline points="904.9,596.9 925.1,589.0 945.4,564.6 965.7,526.5 986.0,500.2 1006.2,479.7 1026.5,468.0 1046.8,462.6 1067.0,467.1 1087.3,473.3 1107.6,478.0 1127.8,481.5" fill="none" stroke="#ff1f00" stroke-width="3.0" stroke-linejoin="round"/>
<rect x="901.4" y="593.4" width="7.0" height="7.0" fill="#000"/>
<rect x="921.6" y="585.5" width="7.0" height="7.0" fill="#000"/>
<rect x="941.9" y="561.1" width="7.0" height="7.0" fill="#000"/>
<rect x="962.2" y="523.0" width="7.0" height="7.0" fill="#000"/>
<rect x="982.5" y="496.7" width="7.0" height="7.0" fill="#000"/>
<rect x="1002.7" y="476.2" width="7.0" height="7.0" fill="#000"/>
<rect x="1023.0" y="464.5" width="7.0" height="7.0" fill="#000"/>
<rect x="1043.3" y="459.1" width="7.0" height="7.0" fill="#000"/>
<rect x="1063.5" y="463.6" width="7.0" height="7.0" fill="#000"/>
<rect x="1083.8" y="469.8" width="7.0" height="7.0" fill="#000"/>
<rect x="1104.1" y="474.5" width="7.0" height="7.0" fill="#000"/>
<rect x="1124.3" y="478.0" width="7.0" height="7.0" fill="#000"/>
<polyline points="904.9,596.9 925.1,592.5 945.4,578.1 965.7,554.4 986.0,522.7 1006.2,502.0 1026.5,486.4 1046.8,477.6 1067.0,473.2 1087.3,479.7 1107.6,485.5 1127.8,491.1" fill="none" stroke="#000" stroke-width="3.5" stroke-linejoin="round"/>
<circle cx="904.9" cy="596.9" r="3.80" fill="#000"/>
<circle cx="925.1" cy="592.5" r="3.80" fill="#000"/>
<circle cx="945.4" cy="578.1" r="3.80" fill="#000"/>
<circle cx="965.7" cy="554.4" r="3.80" fill="#000"/>
<circle cx="986.0" cy="522.7" r="3.80" fill="#000"/>
<circle cx="1006.2" cy="502.0" r="3.80" fill="#000"/>
<circle cx="1026.5" cy="486.4" r="3.80" fill="#000"/>
<circle cx="1046.8" cy="477.6" r="3.80" fill="#000"/>
<circle cx="1067.0" cy="473.2" r="3.80" fill="#000"/>
<circle cx="1087.3" cy="479.7" r="3.80" fill="#000"/>
<circle cx="1107.6" cy="485.5" r="3.80" fill="#000"/>
<circle cx="1127.8" cy="491.1" r="3.80" fill="#000"/>
<line x1="889.6" y1="430.0" x2="898.8" y2="430.0" stroke="#000" stroke-width="3.4" stroke-linecap="round"/>
<circle cx="894.2" cy="430.0" r="3.42" fill="#000"/>
<text transform="translate(903.58,434.60) scale(1.0800,1)" style="font-size:13.00px;font-kerning:none"><tspan style='font-family:"Liberation Sans",sans-serif;font-weight:normal;font-style:normal'>EV18</tspan></text>
<line x1="889.6" y1="442.8" x2="898.8" y2="442.8" stroke="#ff1f00" stroke-width="3.4" stroke-linecap="round"/>
<rect x="891.1" y="439.6" width="6.3" height="6.3" fill="#000"/>
<text transform="translate(903.58,447.35) scale(1.0800,1)" style="font-size:13.00px;font-kerning:none"><tspan style='font-family:"Liberation Sans",sans-serif;font-weight:normal;font-style:normal'>EV18 Δ</tspan><tspan style='font-family:"Liberation Sans",sans-serif;font-weight:normal;font-style:italic'>marR</tspan></text>
<line x1="889.6" y1="455.5" x2="898.8" y2="455.5" stroke="#1f3fff" stroke-width="3.4" stroke-linecap="round"/>
<polygon points="894.2,451.7 898.0,458.5 890.4,458.5" fill="#000"/>
<text transform="translate(903.58,460.10) scale(1.0800,1)" style="font-size:13.00px;font-kerning:none"><tspan style='font-family:"Liberation Sans",sans-serif;font-weight:normal;font-style:normal'>EV18 Δ</tspan><tspan style='font-family:"Liberation Sans",sans-serif;font-weight:normal;font-style:italic'>soxR</tspan></text>
<line x1="889.6" y1="468.2" x2="898.8" y2="468.2" stroke="#ffc86e" stroke-width="3.4" stroke-linecap="round"/>
<polygon points="894.2,472.0 898.0,465.2 890.4,465.2" fill="#000"/>
<text transform="translate(903.58,472.85) scale(1.0800,1)" style="font-size:13.00px;font-kerning:none"><tspan style='font-family:"Liberation Sans",sans-serif;font-weight:normal;font-style:normal'>EV18 Δ</tspan><tspan style='font-family:"Liberation Sans",sans-serif;font-weight:normal;font-style:italic'>soxS</tspan></text>
<line x1="889.6" y1="481.0" x2="898.8" y2="481.0" stroke="#158a4a" stroke-width="3.4" stroke-linecap="round"/>
<polygon points="894.2,477.4 897.8,481.0 894.2,484.6 890.6,481.0" fill="#000"/>
<text transform="translate(903.58,485.60) scale(1.0800,1)" style="font-size:13.00px;font-kerning:none"><tspan style='font-family:"Liberation Sans",sans-serif;font-weight:normal;font-style:normal'>EV18 Δ</tspan><tspan style='font-family:"Liberation Sans",sans-serif;font-weight:normal;font-style:italic'>rob</tspan></text>
<line x1="1237.0" y1="424.0" x2="1237.0" y2="616.1" stroke="#000" stroke-width="2.4"/>
<line x1="1234.0" y1="614.8" x2="1481.2" y2="614.8" stroke="#000" stroke-width="2.8"/>
<line x1="1233.8" y1="614.8" x2="1237.0" y2="614.8" stroke="#000" stroke-width="2.3"/>
<text transform="translate(1200.91,620.60) scale(0.9800,1)" style="font-size:16.60px;font-kerning:none"><tspan style='font-family:"Liberation Sans",sans-serif;font-weight:bold;font-style:normal'>0.00</tspan></text>
<line x1="1233.8" y1="576.8" x2="1237.0" y2="576.8" stroke="#000" stroke-width="2.3"/>
<text transform="translate(1200.67,582.64) scale(0.9800,1)" style="font-size:16.60px;font-kerning:none"><tspan style='font-family:"Liberation Sans",sans-serif;font-weight:bold;font-style:normal'>0.25</tspan></text>
<line x1="1233.8" y1="538.9" x2="1237.0" y2="538.9" stroke="#000" stroke-width="2.3"/>
<text transform="translate(1200.91,544.68) scale(0.9800,1)" style="font-size:16.60px;font-kerning:none"><tspan style='font-family:"Liberation Sans",sans-serif;font-weight:bold;font-style:normal'>0.50</tspan></text>
<line x1="1233.8" y1="500.9" x2="1237.0" y2="500.9" stroke="#000" stroke-width="2.3"/>
<text transform="translate(1200.67,506.72) scale(0.9800,1)" style="font-size:16.60px;font-kerning:none"><tspan style='font-family:"Liberation Sans",sans-serif;font-weight:bold;font-style:normal'>0.75</tspan></text>
<line x1="1233.8" y1="463.0" x2="1237.0" y2="463.0" stroke="#000" stroke-width="2.3"/>
<text transform="translate(1200.91,468.76) scale(0.9800,1)" style="font-size:16.60px;font-kerning:none"><tspan style='font-family:"Liberation Sans",sans-serif;font-weight:bold;font-style:normal'>1.00</tspan></text>
<line x1="1233.8" y1="425.0" x2="1237.0" y2="425.0" stroke="#000" stroke-width="2.3"/>
<text transform="translate(1200.67,430.80) scale(0.9800,1)" style="font-size:16.60px;font-kerning:none"><tspan style='font-family:"Liberation Sans",sans-serif;font-weight:bold;font-style:normal'>1.25</tspan></text>
<line x1="1237.0" y1="614.8" x2="1237.0" y2="618.6" stroke="#000" stroke-width="2.4"/>
<text transform="translate(1232.61,634.20) scale(1.0400,1)" style="font-size:15.20px;font-kerning:none"><tspan style='font-family:"Liberation Sans",sans-serif;font-weight:bold;font-style:normal'>0</tspan></text>
<line x1="1257.3" y1="614.8" x2="1257.3" y2="618.6" stroke="#000" stroke-width="2.4"/>
<text transform="translate(1252.61,634.20) scale(1.0400,1)" style="font-size:15.20px;font-kerning:none"><tspan style='font-family:"Liberation Sans",sans-serif;font-weight:bold;font-style:normal'>1</tspan></text>
<line x1="1277.5" y1="614.8" x2="1277.5" y2="618.6" stroke="#000" stroke-width="2.4"/>
<text transform="translate(1273.19,634.20) scale(1.0400,1)" style="font-size:15.20px;font-kerning:none"><tspan style='font-family:"Liberation Sans",sans-serif;font-weight:bold;font-style:normal'>2</tspan></text>
<line x1="1297.8" y1="614.8" x2="1297.8" y2="618.6" stroke="#000" stroke-width="2.4"/>
<text transform="translate(1293.50,634.20) scale(1.0400,1)" style="font-size:15.20px;font-kerning:none"><tspan style='font-family:"Liberation Sans",sans-serif;font-weight:bold;font-style:normal'>3</tspan></text>
<line x1="1318.1" y1="614.8" x2="1318.1" y2="618.6" stroke="#000" stroke-width="2.4"/>
<text transform="translate(1313.61,634.20) scale(1.0400,1)" style="font-size:15.20px;font-kerning:none"><tspan style='font-family:"Liberation Sans",sans-serif;font-weight:bold;font-style:normal'>4</tspan></text>
<line x1="1338.3" y1="614.8" x2="1338.3" y2="618.6" stroke="#000" stroke-width="2.4"/>
<text transform="translate(1333.92,634.20) scale(1.0400,1)" style="font-size:15.20px;font-kerning:none"><tspan style='font-family:"Liberation Sans",sans-serif;font-weight:bold;font-style:normal'>5</tspan></text>
<line x1="1358.6" y1="614.8" x2="1358.6" y2="618.6" stroke="#000" stroke-width="2.4"/>
<text transform="translate(1354.23,634.20) scale(1.0400,1)" style="font-size:15.20px;font-kerning:none"><tspan style='font-family:"Liberation Sans",sans-serif;font-weight:bold;font-style:normal'>6</tspan></text>
<line x1="1378.9" y1="614.8" x2="1378.9" y2="618.6" stroke="#000" stroke-width="2.4"/>
<text transform="translate(1374.50,634.20) scale(1.0400,1)" style="font-size:15.20px;font-kerning:none"><tspan style='font-family:"Liberation Sans",sans-serif;font-weight:bold;font-style:normal'>7</tspan></text>
<line x1="1399.2" y1="614.8" x2="1399.2" y2="618.6" stroke="#000" stroke-width="2.4"/>
<text transform="translate(1394.77,634.20) scale(1.0400,1)" style="font-size:15.20px;font-kerning:none"><tspan style='font-family:"Liberation Sans",sans-serif;font-weight:bold;font-style:normal'>8</tspan></text>
<line x1="1419.4" y1="614.8" x2="1419.4" y2="618.6" stroke="#000" stroke-width="2.4"/>
<text transform="translate(1415.04,634.20) scale(1.0400,1)" style="font-size:15.20px;font-kerning:none"><tspan style='font-family:"Liberation Sans",sans-serif;font-weight:bold;font-style:normal'>9</tspan></text>
<line x1="1439.7" y1="614.8" x2="1439.7" y2="618.6" stroke="#000" stroke-width="2.4"/>
<text transform="translate(1430.77,634.20) scale(1.0400,1)" style="font-size:15.20px;font-kerning:none"><tspan style='font-family:"Liberation Sans",sans-serif;font-weight:bold;font-style:normal'>10</tspan></text>
<line x1="1460.0" y1="614.8" x2="1460.0" y2="618.6" stroke="#000" stroke-width="2.4"/>
<text transform="translate(1451.35,634.20) scale(1.0400,1)" style="font-size:15.20px;font-kerning:none"><tspan style='font-family:"Liberation Sans",sans-serif;font-weight:bold;font-style:normal'>11</tspan></text>
<line x1="1480.2" y1="614.8" x2="1480.2" y2="618.6" stroke="#000" stroke-width="2.4"/>
<text transform="translate(1471.31,634.20) scale(1.0400,1)" style="font-size:15.20px;font-kerning:none"><tspan style='font-family:"Liberation Sans",sans-serif;font-weight:bold;font-style:normal'>12</tspan></text>
<text transform="translate(1317.99,661.70) scale(1.0485,1)" style="font-size:20.00px;font-kerning:none"><tspan style='font-family:"Liberation Sans",sans-serif;font-weight:bold;font-style:normal'>Time (h)</tspan></text>
<text transform="translate(1315.53,419.30) scale(0.9654,1)" style="font-size:20.14px;font-kerning:none"><tspan style='font-family:"Liberation Sans",sans-serif;font-weight:bold;font-style:normal'>100 µM NF</tspan></text>
<text transform="translate(1190.10,548.73) rotate(-90) scale(1.0000,1)" style="font-size:23.14px;font-kerning:none"><tspan style='font-family:"Liberation Sans",sans-serif;font-weight:bold;font-style:normal'>OD</tspan></text>
<text transform="translate(1197.00,516.85) rotate(-90) scale(0.9172,1)" style="font-size:17.14px;font-kerning:none"><tspan style='font-family:"Liberation Sans",sans-serif;font-weight:bold;font-style:normal'>600</tspan></text>
<polyline points="1257.3,596.6 1277.5,592.0 1297.8,576.8 1318.1,552.5 1338.3,521.4 1358.6,496.2 1378.9,480.9 1399.2,473.9 1419.4,473.4 1439.7,479.5 1460.0,485.3 1480.2,490.9" fill="none" stroke="#158a4a" stroke-width="3.0" stroke-linejoin="round"/>
<polygon points="1257.3,592.6 1261.3,596.6 1257.3,600.6 1253.3,596.6" fill="#000"/>
<polygon points="1277.5,588.0 1281.5,592.0 1277.5,596.0 1273.5,592.0" fill="#000"/>
<polygon points="1297.8,572.8 1301.8,576.8 1297.8,580.8 1293.8,576.8" fill="#000"/>
<polygon points="1318.1,548.5 1322.1,552.5 1318.1,556.5 1314.1,552.5" fill="#000"/>
<polygon points="1338.3,517.4 1342.3,521.4 1338.3,525.4 1334.3,521.4" fill="#000"/>
<polygon points="1358.6,492.2 1362.6,496.2 1358.6,500.2 1354.6,496.2" fill="#000"/>
<polygon points="1378.9,476.9 1382.9,480.9 1378.9,484.9 1374.9,480.9" fill="#000"/>
<polygon points="1399.2,469.9 1403.2,473.9 1399.2,477.9 1395.2,473.9" fill="#000"/>
<polygon points="1419.4,469.4 1423.4,473.4 1419.4,477.4 1415.4,473.4" fill="#000"/>
<polygon points="1439.7,475.5 1443.7,479.5 1439.7,483.5 1435.7,479.5" fill="#000"/>
<polygon points="1460.0,481.3 1464.0,485.3 1460.0,489.3 1456.0,485.3" fill="#000"/>
<polygon points="1480.2,486.9 1484.2,490.9 1480.2,494.9 1476.2,490.9" fill="#000"/>
<polyline points="1257.3,596.6 1277.5,592.0 1297.8,576.8 1318.1,554.1 1338.3,522.2 1358.6,499.4 1378.9,484.2 1399.2,475.9 1419.4,472.5 1439.7,481.2 1460.0,486.5 1480.2,491.8" fill="none" stroke="#ffc86e" stroke-width="2.8" stroke-linejoin="round"/>
<polygon points="1257.3,600.8 1261.5,593.2 1253.1,593.2" fill="#000"/>
<polygon points="1277.5,596.2 1281.7,588.7 1273.3,588.7" fill="#000"/>
<polygon points="1297.8,581.0 1302.0,573.5 1293.6,573.5" fill="#000"/>
<polygon points="1318.1,558.3 1322.3,550.7 1313.9,550.7" fill="#000"/>
<polygon points="1338.3,526.4 1342.5,518.8 1334.1,518.8" fill="#000"/>
<polygon points="1358.6,503.6 1362.8,496.0 1354.4,496.0" fill="#000"/>
<polygon points="1378.9,488.4 1383.1,480.9 1374.7,480.9" fill="#000"/>
<polygon points="1399.2,480.1 1403.4,472.5 1395.0,472.5" fill="#000"/>
<polygon points="1419.4,476.7 1423.6,469.2 1415.2,469.2" fill="#000"/>
<polygon points="1439.7,485.4 1443.9,477.8 1435.5,477.8" fill="#000"/>
<polygon points="1460.0,490.7 1464.2,483.1 1455.8,483.1" fill="#000"/>
<polygon points="1480.2,496.0 1484.4,488.4 1476.0,488.4" fill="#000"/>
<polyline points="1257.3,596.6 1277.5,592.0 1297.8,576.8 1318.1,552.5 1338.3,520.7 1358.6,497.9 1378.9,483.0 1399.2,476.0 1419.4,475.7 1439.7,483.9 1460.0,490.4 1480.2,497.0" fill="none" stroke="#1f3fff" stroke-width="3.0" stroke-linejoin="round"/>
<polygon points="1257.3,592.4 1261.5,599.9 1253.1,599.9" fill="#000"/>
<polygon points="1277.5,587.8 1281.7,595.4 1273.3,595.4" fill="#000"/>
<polygon points="1297.8,572.6 1302.0,580.2 1293.6,580.2" fill="#000"/>
<polygon points="1318.1,548.3 1322.3,555.9 1313.9,555.9" fill="#000"/>
<polygon points="1338.3,516.5 1342.5,524.0 1334.1,524.0" fill="#000"/>
<polygon points="1358.6,493.7 1362.8,501.2 1354.4,501.2" fill="#000"/>
<polygon points="1378.9,478.8 1383.1,486.4 1374.7,486.4" fill="#000"/>
<polygon points="1399.2,471.8 1403.4,479.4 1395.0,479.4" fill="#000"/>
<polygon points="1419.4,471.5 1423.6,479.1 1415.2,479.1" fill="#000"/>
<polygon points="1439.7,479.7 1443.9,487.3 1435.5,487.3" fill="#000"/>
<polygon points="1460.0,486.2 1464.2,493.8 1455.8,493.8" fill="#000"/>
<polygon points="1480.2,492.8 1484.4,500.3 1476.0,500.3" fill="#000"/>
<polyline points="1257.3,596.7 1277.5,590.7 1297.8,573.0 1318.1,548.6 1338.3,521.6 1358.6,502.3 1378.9,491.4 1399.2,484.8 1419.4,485.7 1439.7,494.8 1460.0,501.8 1480.2,508.4" fill="none" stroke="#ff1f00" stroke-width="3.0" stroke-linejoin="round"/>
<rect x="1253.8" y="593.2" width="7.0" height="7.0" fill="#000"/>
<rect x="1274.0" y="587.2" width="7.0" height="7.0" fill="#000"/>
<rect x="1294.3" y="569.5" width="7.0" height="7.0" fill="#000"/>
<rect x="1314.6" y="545.1" width="7.0" height="7.0" fill="#000"/>
<rect x="1334.8" y="518.1" width="7.0" height="7.0" fill="#000"/>
<rect x="1355.1" y="498.8" width="7.0" height="7.0" fill="#000"/>
<rect x="1375.4" y="487.9" width="7.0" height="7.0" fill="#000"/>
<rect x="1395.7" y="481.3" width="7.0" height="7.0" fill="#000"/>
<rect x="1415.9" y="482.2" width="7.0" height="7.0" fill="#000"/>
<rect x="1436.2" y="491.3" width="7.0" height="7.0" fill="#000"/>
<rect x="1456.5" y="498.3" width="7.0" height="7.0" fill="#000"/>
<rect x="1476.7" y="504.9" width="7.0" height="7.0" fill="#000"/>
<polyline points="1257.3,597.3 1277.5,592.3 1297.8,577.9 1318.1,554.8 1338.3,523.2 1358.6,502.3 1378.9,487.4 1399.2,479.2 1419.4,476.0 1439.7,482.2 1460.0,487.4 1480.2,493.2" fill="none" stroke="#000" stroke-width="3.5" stroke-linejoin="round"/>
<circle cx="1257.3" cy="597.3" r="3.80" fill="#000"/>
<circle cx="1277.5" cy="592.3" r="3.80" fill="#000"/>
<circle cx="1297.8" cy="577.9" r="3.80" fill="#000"/>
<circle cx="1318.1" cy="554.8" r="3.80" fill="#000"/>
<circle cx="1338.3" cy="523.2" r="3.80" fill="#000"/>
<circle cx="1358.6" cy="502.3" r="3.80" fill="#000"/>
<circle cx="1378.9" cy="487.4" r="3.80" fill="#000"/>
<circle cx="1399.2" cy="479.2" r="3.80" fill="#000"/>
<circle cx="1419.4" cy="476.0" r="3.80" fill="#000"/>
<circle cx="1439.7" cy="482.2" r="3.80" fill="#000"/>
<circle cx="1460.0" cy="487.4" r="3.80" fill="#000"/>
<circle cx="1480.2" cy="493.2" r="3.80" fill="#000"/>
<line x1="1242.0" y1="429.8" x2="1251.2" y2="429.8" stroke="#000" stroke-width="3.4" stroke-linecap="round"/>
<circle cx="1246.6" cy="429.8" r="3.42" fill="#000"/>
<text transform="translate(1255.98,434.40) scale(1.0800,1)" style="font-size:13.00px;font-kerning:none"><tspan style='font-family:"Liberation Sans",sans-serif;font-weight:normal;font-style:normal'>EV18</tspan></text>
<line x1="1242.0" y1="442.5" x2="1251.2" y2="442.5" stroke="#ff1f00" stroke-width="3.4" stroke-linecap="round"/>
<rect x="1243.4" y="439.4" width="6.3" height="6.3" fill="#000"/>
<text transform="translate(1255.98,447.15) scale(1.0800,1)" style="font-size:13.00px;font-kerning:none"><tspan style='font-family:"Liberation Sans",sans-serif;font-weight:normal;font-style:normal'>EV18 Δ</tspan><tspan style='font-family:"Liberation Sans",sans-serif;font-weight:normal;font-style:italic'>marR</tspan></text>
<line x1="1242.0" y1="455.3" x2="1251.2" y2="455.3" stroke="#1f3fff" stroke-width="3.4" stroke-linecap="round"/>
<polygon points="1246.6,451.5 1250.4,458.3 1242.8,458.3" fill="#000"/>
<text transform="translate(1255.98,459.90) scale(1.0800,1)" style="font-size:13.00px;font-kerning:none"><tspan style='font-family:"Liberation Sans",sans-serif;font-weight:normal;font-style:normal'>EV18 Δ</tspan><tspan style='font-family:"Liberation Sans",sans-serif;font-weight:normal;font-style:italic'>soxR</tspan></text>
<line x1="1242.0" y1="468.0" x2="1251.2" y2="468.0" stroke="#ffc86e" stroke-width="3.4" stroke-linecap="round"/>
<polygon points="1246.6,471.8 1250.4,465.0 1242.8,465.0" fill="#000"/>
<text transform="translate(1255.98,472.65) scale(1.0800,1)" style="font-size:13.00px;font-kerning:none"><tspan style='font-family:"Liberation Sans",sans-serif;font-weight:normal;font-style:normal'>EV18 Δ</tspan><tspan style='font-family:"Liberation Sans",sans-serif;font-weight:normal;font-style:italic'>soxS</tspan></text>
<line x1="1242.0" y1="480.8" x2="1251.2" y2="480.8" stroke="#158a4a" stroke-width="3.4" stroke-linecap="round"/>
<polygon points="1246.6,477.2 1250.2,480.8 1246.6,484.4 1243.0,480.8" fill="#000"/>
<text transform="translate(1255.98,485.40) scale(1.0800,1)" style="font-size:13.00px;font-kerning:none"><tspan style='font-family:"Liberation Sans",sans-serif;font-weight:normal;font-style:normal'>EV18 Δ</tspan><tspan style='font-family:"Liberation Sans",sans-serif;font-weight:normal;font-style:italic'>rob</tspan></text>
<line x1="884.5" y1="728.6" x2="884.5" y2="920.7" stroke="#000" stroke-width="2.4"/>
<line x1="881.5" y1="919.4" x2="1128.4" y2="919.4" stroke="#000" stroke-width="2.8"/>
<line x1="881.3" y1="919.4" x2="884.5" y2="919.4" stroke="#000" stroke-width="2.3"/>
<text transform="translate(847.91,925.20) scale(0.9800,1)" style="font-size:16.60px;font-kerning:none"><tspan style='font-family:"Liberation Sans",sans-serif;font-weight:bold;font-style:normal'>0.00</tspan></text>
<line x1="881.3" y1="881.4" x2="884.5" y2="881.4" stroke="#000" stroke-width="2.3"/>
<text transform="translate(847.67,887.24) scale(0.9800,1)" style="font-size:16.60px;font-kerning:none"><tspan style='font-family:"Liberation Sans",sans-serif;font-weight:bold;font-style:normal'>0.25</tspan></text>
<line x1="881.3" y1="843.5" x2="884.5" y2="843.5" stroke="#000" stroke-width="2.3"/>
<text transform="translate(847.91,849.28) scale(0.9800,1)" style="font-size:16.60px;font-kerning:none"><tspan style='font-family:"Liberation Sans",sans-serif;font-weight:bold;font-style:normal'>0.50</tspan></text>
<line x1="881.3" y1="805.5" x2="884.5" y2="805.5" stroke="#000" stroke-width="2.3"/>
<text transform="translate(847.67,811.32) scale(0.9800,1)" style="font-size:16.60px;font-kerning:none"><tspan style='font-family:"Liberation Sans",sans-serif;font-weight:bold;font-style:normal'>0.75</tspan></text>
<line x1="881.3" y1="767.6" x2="884.5" y2="767.6" stroke="#000" stroke-width="2.3"/>
<text transform="translate(847.91,773.36) scale(0.9800,1)" style="font-size:16.60px;font-kerning:none"><tspan style='font-family:"Liberation Sans",sans-serif;font-weight:bold;font-style:normal'>1.00</tspan></text>
<line x1="881.3" y1="729.6" x2="884.5" y2="729.6" stroke="#000" stroke-width="2.3"/>
<text transform="translate(847.67,735.40) scale(0.9800,1)" style="font-size:16.60px;font-kerning:none"><tspan style='font-family:"Liberation Sans",sans-serif;font-weight:bold;font-style:normal'>1.25</tspan></text>
<line x1="884.5" y1="919.4" x2="884.5" y2="923.2" stroke="#000" stroke-width="2.4"/>
<text transform="translate(880.11,938.80) scale(1.0400,1)" style="font-size:15.20px;font-kerning:none"><tspan style='font-family:"Liberation Sans",sans-serif;font-weight:bold;font-style:normal'>0</tspan></text>
<line x1="904.7" y1="919.4" x2="904.7" y2="923.2" stroke="#000" stroke-width="2.4"/>
<text transform="translate(900.08,938.80) scale(1.0400,1)" style="font-size:15.20px;font-kerning:none"><tspan style='font-family:"Liberation Sans",sans-serif;font-weight:bold;font-style:normal'>1</tspan></text>
<line x1="925.0" y1="919.4" x2="925.0" y2="923.2" stroke="#000" stroke-width="2.4"/>
<text transform="translate(920.63,938.80) scale(1.0400,1)" style="font-size:15.20px;font-kerning:none"><tspan style='font-family:"Liberation Sans",sans-serif;font-weight:bold;font-style:normal'>2</tspan></text>
<line x1="945.2" y1="919.4" x2="945.2" y2="923.2" stroke="#000" stroke-width="2.4"/>
<text transform="translate(940.91,938.80) scale(1.0400,1)" style="font-size:15.20px;font-kerning:none"><tspan style='font-family:"Liberation Sans",sans-serif;font-weight:bold;font-style:normal'>3</tspan></text>
<line x1="965.5" y1="919.4" x2="965.5" y2="923.2" stroke="#000" stroke-width="2.4"/>
<text transform="translate(960.99,938.80) scale(1.0400,1)" style="font-size:15.20px;font-kerning:none"><tspan style='font-family:"Liberation Sans",sans-serif;font-weight:bold;font-style:normal'>4</tspan></text>
<line x1="985.7" y1="919.4" x2="985.7" y2="923.2" stroke="#000" stroke-width="2.4"/>
<text transform="translate(981.27,938.80) scale(1.0400,1)" style="font-size:15.20px;font-kerning:none"><tspan style='font-family:"Liberation Sans",sans-serif;font-weight:bold;font-style:normal'>5</tspan></text>
<line x1="1005.9" y1="919.4" x2="1005.9" y2="923.2" stroke="#000" stroke-width="2.4"/>
<text transform="translate(1001.55,938.80) scale(1.0400,1)" style="font-size:15.20px;font-kerning:none"><tspan style='font-family:"Liberation Sans",sans-serif;font-weight:bold;font-style:normal'>6</tspan></text>
<line x1="1026.2" y1="919.4" x2="1026.2" y2="923.2" stroke="#000" stroke-width="2.4"/>
<text transform="translate(1021.79,938.80) scale(1.0400,1)" style="font-size:15.20px;font-kerning:none"><tspan style='font-family:"Liberation Sans",sans-serif;font-weight:bold;font-style:normal'>7</tspan></text>
<line x1="1046.4" y1="919.4" x2="1046.4" y2="923.2" stroke="#000" stroke-width="2.4"/>
<text transform="translate(1042.03,938.80) scale(1.0400,1)" style="font-size:15.20px;font-kerning:none"><tspan style='font-family:"Liberation Sans",sans-serif;font-weight:bold;font-style:normal'>8</tspan></text>
<line x1="1066.7" y1="919.4" x2="1066.7" y2="923.2" stroke="#000" stroke-width="2.4"/>
<text transform="translate(1062.27,938.80) scale(1.0400,1)" style="font-size:15.20px;font-kerning:none"><tspan style='font-family:"Liberation Sans",sans-serif;font-weight:bold;font-style:normal'>9</tspan></text>
<line x1="1086.9" y1="919.4" x2="1086.9" y2="923.2" stroke="#000" stroke-width="2.4"/>
<text transform="translate(1077.97,938.80) scale(1.0400,1)" style="font-size:15.20px;font-kerning:none"><tspan style='font-family:"Liberation Sans",sans-serif;font-weight:bold;font-style:normal'>10</tspan></text>
<line x1="1107.1" y1="919.4" x2="1107.1" y2="923.2" stroke="#000" stroke-width="2.4"/>
<text transform="translate(1098.52,938.80) scale(1.0400,1)" style="font-size:15.20px;font-kerning:none"><tspan style='font-family:"Liberation Sans",sans-serif;font-weight:bold;font-style:normal'>11</tspan></text>
<line x1="1127.4" y1="919.4" x2="1127.4" y2="923.2" stroke="#000" stroke-width="2.4"/>
<text transform="translate(1118.45,938.80) scale(1.0400,1)" style="font-size:15.20px;font-kerning:none"><tspan style='font-family:"Liberation Sans",sans-serif;font-weight:bold;font-style:normal'>12</tspan></text>
<text transform="translate(965.49,966.30) scale(1.0485,1)" style="font-size:20.00px;font-kerning:none"><tspan style='font-family:"Liberation Sans",sans-serif;font-weight:bold;font-style:normal'>Time (h)</tspan></text>
<text transform="translate(960.11,720.30) scale(0.9478,1)" style="font-size:20.71px;font-kerning:none"><tspan style='font-family:"Liberation Sans",sans-serif;font-weight:bold;font-style:normal'>200 µM NF</tspan></text>
<text transform="translate(835.10,851.03) rotate(-90) scale(1.0000,1)" style="font-size:23.14px;font-kerning:none"><tspan style='font-family:"Liberation Sans",sans-serif;font-weight:bold;font-style:normal'>OD</tspan></text>
<text transform="translate(842.00,819.15) rotate(-90) scale(0.9172,1)" style="font-size:17.14px;font-kerning:none"><tspan style='font-family:"Liberation Sans",sans-serif;font-weight:bold;font-style:normal'>600</tspan></text>
<polyline points="904.7,901.2 925.0,897.4 945.2,884.5 965.5,863.2 985.7,829.8 1005.9,805.4 1026.2,789.9 1046.4,781.5 1066.7,780.8 1086.9,787.8 1107.1,794.7 1127.4,800.8" fill="none" stroke="#158a4a" stroke-width="3.0" stroke-linejoin="round"/>
<polygon points="904.7,897.2 908.7,901.2 904.7,905.2 900.7,901.2" fill="#000"/>
<polygon points="925.0,893.4 929.0,897.4 925.0,901.4 921.0,897.4" fill="#000"/>
<polygon points="945.2,880.5 949.2,884.5 945.2,888.5 941.2,884.5" fill="#000"/>
<polygon points="965.5,859.2 969.5,863.2 965.5,867.2 961.5,863.2" fill="#000"/>
<polygon points="985.7,825.8 989.7,829.8 985.7,833.8 981.7,829.8" fill="#000"/>
<polygon points="1005.9,801.4 1009.9,805.4 1005.9,809.4 1001.9,805.4" fill="#000"/>
<polygon points="1026.2,785.9 1030.2,789.9 1026.2,793.9 1022.2,789.9" fill="#000"/>
<polygon points="1046.4,777.5 1050.4,781.5 1046.4,785.5 1042.4,781.5" fill="#000"/>
<polygon points="1066.7,776.8 1070.7,780.8 1066.7,784.8 1062.7,780.8" fill="#000"/>
<polygon points="1086.9,783.8 1090.9,787.8 1086.9,791.8 1082.9,787.8" fill="#000"/>
<polygon points="1107.1,790.7 1111.1,794.7 1107.1,798.7 1103.1,794.7" fill="#000"/>
<polygon points="1127.4,796.8 1131.4,800.8 1127.4,804.8 1123.4,800.8" fill="#000"/>
<polyline points="904.7,901.2 925.0,897.4 945.2,884.5 965.5,864.0 985.7,831.3 1005.9,811.6 1026.2,794.9 1046.4,786.5 1066.7,784.3 1086.9,791.1 1107.1,797.9 1127.4,803.2" fill="none" stroke="#ffc86e" stroke-width="2.8" stroke-linejoin="round"/>
<polygon points="904.7,905.4 908.9,897.8 900.5,897.8" fill="#000"/>
<polygon points="925.0,901.6 929.2,894.0 920.8,894.0" fill="#000"/>
<polygon points="945.2,888.7 949.4,881.1 941.0,881.1" fill="#000"/>
<polygon points="965.5,868.2 969.7,860.6 961.3,860.6" fill="#000"/>
<polygon points="985.7,835.5 989.9,828.0 981.5,828.0" fill="#000"/>
<polygon points="1005.9,815.8 1010.1,808.2 1001.7,808.2" fill="#000"/>
<polygon points="1026.2,799.1 1030.4,791.5 1022.0,791.5" fill="#000"/>
<polygon points="1046.4,790.7 1050.6,783.2 1042.2,783.2" fill="#000"/>
<polygon points="1066.7,788.5 1070.9,780.9 1062.5,780.9" fill="#000"/>
<polygon points="1086.9,795.3 1091.1,787.7 1082.7,787.7" fill="#000"/>
<polygon points="1107.1,802.1 1111.3,794.6 1102.9,794.6" fill="#000"/>
<polygon points="1127.4,807.4 1131.6,799.9 1123.2,799.9" fill="#000"/>
<polyline points="904.7,901.2 925.0,897.4 945.2,883.7 965.5,863.2 985.7,829.4 1005.9,807.3 1026.2,791.7 1046.4,784.3 1066.7,782.9 1086.9,793.1 1107.1,801.7 1127.4,807.8" fill="none" stroke="#1f3fff" stroke-width="3.0" stroke-linejoin="round"/>
<polygon points="904.7,897.0 908.9,904.5 900.5,904.5" fill="#000"/>
<polygon points="925.0,893.2 929.2,900.7 920.8,900.7" fill="#000"/>
<polygon points="945.2,879.5 949.4,887.1 941.0,887.1" fill="#000"/>
<polygon points="965.5,859.0 969.7,866.6 961.3,866.6" fill="#000"/>
<polygon points="985.7,825.2 989.9,832.7 981.5,832.7" fill="#000"/>
<polygon points="1005.9,803.1 1010.1,810.7 1001.7,810.7" fill="#000"/>
<polygon points="1026.2,787.5 1030.4,795.1 1022.0,795.1" fill="#000"/>
<polygon points="1046.4,780.1 1050.6,787.6 1042.2,787.6" fill="#000"/>
<polygon points="1066.7,778.7 1070.9,786.3 1062.5,786.3" fill="#000"/>
<polygon points="1086.9,788.9 1091.1,796.4 1082.7,796.4" fill="#000"/>
<polygon points="1107.1,797.5 1111.3,805.1 1102.9,805.1" fill="#000"/>
<polygon points="1127.4,803.6 1131.6,811.2 1123.2,811.2" fill="#000"/>
<polyline points="904.7,901.6 925.0,897.5 945.2,886.5 965.5,877.8 985.7,874.8 1005.9,875.1 1026.2,876.0 1046.4,878.3 1066.7,880.5 1086.9,882.7 1107.1,884.5 1127.4,885.5" fill="none" stroke="#ff1f00" stroke-width="3.0" stroke-linejoin="round"/>
<rect x="901.2" y="898.1" width="7.0" height="7.0" fill="#000"/>
<rect x="921.5" y="894.0" width="7.0" height="7.0" fill="#000"/>
<rect x="941.7" y="883.0" width="7.0" height="7.0" fill="#000"/>
<rect x="962.0" y="874.3" width="7.0" height="7.0" fill="#000"/>
<rect x="982.2" y="871.3" width="7.0" height="7.0" fill="#000"/>
<rect x="1002.4" y="871.6" width="7.0" height="7.0" fill="#000"/>
<rect x="1022.7" y="872.5" width="7.0" height="7.0" fill="#000"/>
<rect x="1042.9" y="874.8" width="7.0" height="7.0" fill="#000"/>
<rect x="1063.2" y="877.0" width="7.0" height="7.0" fill="#000"/>
<rect x="1083.4" y="879.2" width="7.0" height="7.0" fill="#000"/>
<rect x="1103.6" y="881.0" width="7.0" height="7.0" fill="#000"/>
<rect x="1123.9" y="882.0" width="7.0" height="7.0" fill="#000"/>
<polyline points="904.7,901.9 925.0,897.5 945.2,884.8 965.5,864.3 985.7,832.9 1005.9,814.8 1026.2,799.0 1046.4,789.6 1066.7,786.1 1086.9,792.6 1107.1,799.0 1127.4,804.3" fill="none" stroke="#000" stroke-width="3.5" stroke-linejoin="round"/>
<circle cx="904.7" cy="901.9" r="3.80" fill="#000"/>
<circle cx="925.0" cy="897.5" r="3.80" fill="#000"/>
<circle cx="945.2" cy="884.8" r="3.80" fill="#000"/>
<circle cx="965.5" cy="864.3" r="3.80" fill="#000"/>
<circle cx="985.7" cy="832.9" r="3.80" fill="#000"/>
<circle cx="1005.9" cy="814.8" r="3.80" fill="#000"/>
<circle cx="1026.2" cy="799.0" r="3.80" fill="#000"/>
<circle cx="1046.4" cy="789.6" r="3.80" fill="#000"/>
<circle cx="1066.7" cy="786.1" r="3.80" fill="#000"/>
<circle cx="1086.9" cy="792.6" r="3.80" fill="#000"/>
<circle cx="1107.1" cy="799.0" r="3.80" fill="#000"/>
<circle cx="1127.4" cy="804.3" r="3.80" fill="#000"/>
<line x1="889.5" y1="734.4" x2="898.7" y2="734.4" stroke="#000" stroke-width="3.4" stroke-linecap="round"/>
<circle cx="894.1" cy="734.4" r="3.42" fill="#000"/>
<text transform="translate(903.48,739.00) scale(1.0800,1)" style="font-size:13.00px;font-kerning:none"><tspan style='font-family:"Liberation Sans",sans-serif;font-weight:normal;font-style:normal'>EV18</tspan></text>
<line x1="889.5" y1="747.1" x2="898.7" y2="747.1" stroke="#ff1f00" stroke-width="3.4" stroke-linecap="round"/>
<rect x="891.0" y="744.0" width="6.3" height="6.3" fill="#000"/>
<text transform="translate(903.48,751.75) scale(1.0800,1)" style="font-size:13.00px;font-kerning:none"><tspan style='font-family:"Liberation Sans",sans-serif;font-weight:normal;font-style:normal'>EV18 Δ</tspan><tspan style='font-family:"Liberation Sans",sans-serif;font-weight:normal;font-style:italic'>marR</tspan></text>
<line x1="889.5" y1="759.9" x2="898.7" y2="759.9" stroke="#1f3fff" stroke-width="3.4" stroke-linecap="round"/>
<polygon points="894.1,756.1 897.9,762.9 890.3,762.9" fill="#000"/>
<text transform="translate(903.48,764.50) scale(1.0800,1)" style="font-size:13.00px;font-kerning:none"><tspan style='font-family:"Liberation Sans",sans-serif;font-weight:normal;font-style:normal'>EV18 Δ</tspan><tspan style='font-family:"Liberation Sans",sans-serif;font-weight:normal;font-style:italic'>soxR</tspan></text>
<line x1="889.5" y1="772.6" x2="898.7" y2="772.6" stroke="#ffc86e" stroke-width="3.4" stroke-linecap="round"/>
<polygon points="894.1,776.4 897.9,769.6 890.3,769.6" fill="#000"/>
<text transform="translate(903.48,777.25) scale(1.0800,1)" style="font-size:13.00px;font-kerning:none"><tspan style='font-family:"Liberation Sans",sans-serif;font-weight:normal;font-style:normal'>EV18 Δ</tspan><tspan style='font-family:"Liberation Sans",sans-serif;font-weight:normal;font-style:italic'>soxS</tspan></text>
<line x1="889.5" y1="785.4" x2="898.7" y2="785.4" stroke="#158a4a" stroke-width="3.4" stroke-linecap="round"/>
<polygon points="894.1,781.8 897.7,785.4 894.1,789.0 890.5,785.4" fill="#000"/>
<text transform="translate(903.48,790.00) scale(1.0800,1)" style="font-size:13.00px;font-kerning:none"><tspan style='font-family:"Liberation Sans",sans-serif;font-weight:normal;font-style:normal'>EV18 Δ</tspan><tspan style='font-family:"Liberation Sans",sans-serif;font-weight:normal;font-style:italic'>rob</tspan></text>
<line x1="1247.6" y1="728.7" x2="1247.6" y2="920.8" stroke="#000" stroke-width="2.4"/>
<line x1="1244.6" y1="919.5" x2="1491.0" y2="919.5" stroke="#000" stroke-width="2.8"/>
<line x1="1244.4" y1="919.5" x2="1247.6" y2="919.5" stroke="#000" stroke-width="2.3"/>
<text transform="translate(1211.31,925.30) scale(0.9800,1)" style="font-size:16.60px;font-kerning:none"><tspan style='font-family:"Liberation Sans",sans-serif;font-weight:bold;font-style:normal'>0.00</tspan></text>
<line x1="1244.4" y1="881.5" x2="1247.6" y2="881.5" stroke="#000" stroke-width="2.3"/>
<text transform="translate(1211.07,887.34) scale(0.9800,1)" style="font-size:16.60px;font-kerning:none"><tspan style='font-family:"Liberation Sans",sans-serif;font-weight:bold;font-style:normal'>0.25</tspan></text>
<line x1="1244.4" y1="843.6" x2="1247.6" y2="843.6" stroke="#000" stroke-width="2.3"/>
<text transform="translate(1211.31,849.38) scale(0.9800,1)" style="font-size:16.60px;font-kerning:none"><tspan style='font-family:"Liberation Sans",sans-serif;font-weight:bold;font-style:normal'>0.50</tspan></text>
<line x1="1244.4" y1="805.6" x2="1247.6" y2="805.6" stroke="#000" stroke-width="2.3"/>
<text transform="translate(1211.07,811.42) scale(0.9800,1)" style="font-size:16.60px;font-kerning:none"><tspan style='font-family:"Liberation Sans",sans-serif;font-weight:bold;font-style:normal'>0.75</tspan></text>
<line x1="1244.4" y1="767.7" x2="1247.6" y2="767.7" stroke="#000" stroke-width="2.3"/>
<text transform="translate(1211.31,773.46) scale(0.9800,1)" style="font-size:16.60px;font-kerning:none"><tspan style='font-family:"Liberation Sans",sans-serif;font-weight:bold;font-style:normal'>1.00</tspan></text>
<line x1="1244.4" y1="729.7" x2="1247.6" y2="729.7" stroke="#000" stroke-width="2.3"/>
<text transform="translate(1211.07,735.50) scale(0.9800,1)" style="font-size:16.60px;font-kerning:none"><tspan style='font-family:"Liberation Sans",sans-serif;font-weight:bold;font-style:normal'>1.25</tspan></text>
<line x1="1247.6" y1="919.5" x2="1247.6" y2="923.3" stroke="#000" stroke-width="2.4"/>
<text transform="translate(1243.21,938.90) scale(1.0400,1)" style="font-size:15.20px;font-kerning:none"><tspan style='font-family:"Liberation Sans",sans-serif;font-weight:bold;font-style:normal'>0</tspan></text>
<line x1="1267.8" y1="919.5" x2="1267.8" y2="923.3" stroke="#000" stroke-width="2.4"/>
<text transform="translate(1263.14,938.90) scale(1.0400,1)" style="font-size:15.20px;font-kerning:none"><tspan style='font-family:"Liberation Sans",sans-serif;font-weight:bold;font-style:normal'>1</tspan></text>
<line x1="1288.0" y1="919.5" x2="1288.0" y2="923.3" stroke="#000" stroke-width="2.4"/>
<text transform="translate(1283.65,938.90) scale(1.0400,1)" style="font-size:15.20px;font-kerning:none"><tspan style='font-family:"Liberation Sans",sans-serif;font-weight:bold;font-style:normal'>2</tspan></text>
<line x1="1308.2" y1="919.5" x2="1308.2" y2="923.3" stroke="#000" stroke-width="2.4"/>
<text transform="translate(1303.89,938.90) scale(1.0400,1)" style="font-size:15.20px;font-kerning:none"><tspan style='font-family:"Liberation Sans",sans-serif;font-weight:bold;font-style:normal'>3</tspan></text>
<line x1="1328.4" y1="919.5" x2="1328.4" y2="923.3" stroke="#000" stroke-width="2.4"/>
<text transform="translate(1323.93,938.90) scale(1.0400,1)" style="font-size:15.20px;font-kerning:none"><tspan style='font-family:"Liberation Sans",sans-serif;font-weight:bold;font-style:normal'>4</tspan></text>
<line x1="1348.6" y1="919.5" x2="1348.6" y2="923.3" stroke="#000" stroke-width="2.4"/>
<text transform="translate(1344.17,938.90) scale(1.0400,1)" style="font-size:15.20px;font-kerning:none"><tspan style='font-family:"Liberation Sans",sans-serif;font-weight:bold;font-style:normal'>5</tspan></text>
<line x1="1368.8" y1="919.5" x2="1368.8" y2="923.3" stroke="#000" stroke-width="2.4"/>
<text transform="translate(1364.41,938.90) scale(1.0400,1)" style="font-size:15.20px;font-kerning:none"><tspan style='font-family:"Liberation Sans",sans-serif;font-weight:bold;font-style:normal'>6</tspan></text>
<line x1="1389.0" y1="919.5" x2="1389.0" y2="923.3" stroke="#000" stroke-width="2.4"/>
<text transform="translate(1384.61,938.90) scale(1.0400,1)" style="font-size:15.20px;font-kerning:none"><tspan style='font-family:"Liberation Sans",sans-serif;font-weight:bold;font-style:normal'>7</tspan></text>
<line x1="1409.2" y1="919.5" x2="1409.2" y2="923.3" stroke="#000" stroke-width="2.4"/>
<text transform="translate(1404.81,938.90) scale(1.0400,1)" style="font-size:15.20px;font-kerning:none"><tspan style='font-family:"Liberation Sans",sans-serif;font-weight:bold;font-style:normal'>8</tspan></text>
<line x1="1429.4" y1="919.5" x2="1429.4" y2="923.3" stroke="#000" stroke-width="2.4"/>
<text transform="translate(1425.01,938.90) scale(1.0400,1)" style="font-size:15.20px;font-kerning:none"><tspan style='font-family:"Liberation Sans",sans-serif;font-weight:bold;font-style:normal'>9</tspan></text>
<line x1="1449.6" y1="919.5" x2="1449.6" y2="923.3" stroke="#000" stroke-width="2.4"/>
<text transform="translate(1440.67,938.90) scale(1.0400,1)" style="font-size:15.20px;font-kerning:none"><tspan style='font-family:"Liberation Sans",sans-serif;font-weight:bold;font-style:normal'>10</tspan></text>
<line x1="1469.8" y1="919.5" x2="1469.8" y2="923.3" stroke="#000" stroke-width="2.4"/>
<text transform="translate(1461.18,938.90) scale(1.0400,1)" style="font-size:15.20px;font-kerning:none"><tspan style='font-family:"Liberation Sans",sans-serif;font-weight:bold;font-style:normal'>11</tspan></text>
<line x1="1490.0" y1="919.5" x2="1490.0" y2="923.3" stroke="#000" stroke-width="2.4"/>
<text transform="translate(1481.07,938.90) scale(1.0400,1)" style="font-size:15.20px;font-kerning:none"><tspan style='font-family:"Liberation Sans",sans-serif;font-weight:bold;font-style:normal'>12</tspan></text>
<text transform="translate(1328.59,966.40) scale(1.0485,1)" style="font-size:20.00px;font-kerning:none"><tspan style='font-family:"Liberation Sans",sans-serif;font-weight:bold;font-style:normal'>Time (h)</tspan></text>
<text transform="translate(1315.31,720.30) scale(0.9439,1)" style="font-size:20.71px;font-kerning:none"><tspan style='font-family:"Liberation Sans",sans-serif;font-weight:bold;font-style:normal'>400 µM NF</tspan></text>
<text transform="translate(1200.00,852.84) rotate(-90) scale(1.0000,1)" style="font-size:23.57px;font-kerning:none"><tspan style='font-family:"Liberation Sans",sans-serif;font-weight:bold;font-style:normal'>OD</tspan></text>
<text transform="translate(1206.90,820.95) rotate(-90) scale(0.8948,1)" style="font-size:17.57px;font-kerning:none"><tspan style='font-family:"Liberation Sans",sans-serif;font-weight:bold;font-style:normal'>600</tspan></text>
<polyline points="1267.8,901.9 1288.0,898.8 1308.2,889.1 1328.4,876.2 1348.6,862.6 1368.8,850.0 1389.0,846.5 1409.2,845.3 1429.4,845.7 1449.6,847.1 1469.8,851.3 1490.0,855.7" fill="none" stroke="#158a4a" stroke-width="3.0" stroke-linejoin="round"/>
<polygon points="1267.8,897.9 1271.8,901.9 1267.8,905.9 1263.8,901.9" fill="#000"/>
<polygon points="1288.0,894.8 1292.0,898.8 1288.0,902.8 1284.0,898.8" fill="#000"/>
<polygon points="1308.2,885.1 1312.2,889.1 1308.2,893.1 1304.2,889.1" fill="#000"/>
<polygon points="1328.4,872.2 1332.4,876.2 1328.4,880.2 1324.4,876.2" fill="#000"/>
<polygon points="1348.6,858.6 1352.6,862.6 1348.6,866.6 1344.6,862.6" fill="#000"/>
<polygon points="1368.8,846.0 1372.8,850.0 1368.8,854.0 1364.8,850.0" fill="#000"/>
<polygon points="1389.0,842.5 1393.0,846.5 1389.0,850.5 1385.0,846.5" fill="#000"/>
<polygon points="1409.2,841.3 1413.2,845.3 1409.2,849.3 1405.2,845.3" fill="#000"/>
<polygon points="1429.4,841.7 1433.4,845.7 1429.4,849.7 1425.4,845.7" fill="#000"/>
<polygon points="1449.6,843.1 1453.6,847.1 1449.6,851.1 1445.6,847.1" fill="#000"/>
<polygon points="1469.8,847.3 1473.8,851.3 1469.8,855.3 1465.8,851.3" fill="#000"/>
<polygon points="1490.0,851.7 1494.0,855.7 1490.0,859.7 1486.0,855.7" fill="#000"/>
<polyline points="1267.8,901.9 1288.0,898.8 1308.2,889.1 1328.4,877.0 1348.6,864.1 1368.8,853.9 1389.0,851.3 1409.2,850.4 1429.4,851.6 1449.6,854.2 1469.8,857.7 1490.0,861.2" fill="none" stroke="#ffc86e" stroke-width="2.8" stroke-linejoin="round"/>
<polygon points="1267.8,906.1 1272.0,898.5 1263.6,898.5" fill="#000"/>
<polygon points="1288.0,903.0 1292.2,895.5 1283.8,895.5" fill="#000"/>
<polygon points="1308.2,893.3 1312.4,885.8 1304.0,885.8" fill="#000"/>
<polygon points="1328.4,881.2 1332.6,873.6 1324.2,873.6" fill="#000"/>
<polygon points="1348.6,868.3 1352.8,860.7 1344.4,860.7" fill="#000"/>
<polygon points="1368.8,858.1 1373.0,850.5 1364.6,850.5" fill="#000"/>
<polygon points="1389.0,855.5 1393.2,848.0 1384.8,848.0" fill="#000"/>
<polygon points="1409.2,854.6 1413.4,847.1 1405.0,847.1" fill="#000"/>
<polygon points="1429.4,855.8 1433.6,848.3 1425.2,848.3" fill="#000"/>
<polygon points="1449.6,858.4 1453.8,850.8 1445.4,850.8" fill="#000"/>
<polygon points="1469.8,861.9 1474.0,854.3 1465.6,854.3" fill="#000"/>
<polygon points="1490.0,865.4 1494.2,857.8 1485.8,857.8" fill="#000"/>
<polyline points="1267.8,901.9 1288.0,898.8 1308.2,888.4 1328.4,876.2 1348.6,862.9 1368.8,852.7 1389.0,849.8 1409.2,848.0 1429.4,848.6 1449.6,851.3 1469.8,854.8 1490.0,858.3" fill="none" stroke="#1f3fff" stroke-width="3.0" stroke-linejoin="round"/>
<polygon points="1267.8,897.7 1272.0,905.2 1263.6,905.2" fill="#000"/>
<polygon points="1288.0,894.6 1292.2,902.2 1283.8,902.2" fill="#000"/>
<polygon points="1308.2,884.2 1312.4,891.7 1304.0,891.7" fill="#000"/>
<polygon points="1328.4,872.0 1332.6,879.6 1324.2,879.6" fill="#000"/>
<polygon points="1348.6,858.7 1352.8,866.2 1344.4,866.2" fill="#000"/>
<polygon points="1368.8,848.5 1373.0,856.1 1364.6,856.1" fill="#000"/>
<polygon points="1389.0,845.6 1393.2,853.2 1384.8,853.2" fill="#000"/>
<polygon points="1409.2,843.8 1413.4,851.3 1405.0,851.3" fill="#000"/>
<polygon points="1429.4,844.4 1433.6,852.0 1425.2,852.0" fill="#000"/>
<polygon points="1449.6,847.1 1453.8,854.7 1445.4,854.7" fill="#000"/>
<polygon points="1469.8,850.6 1474.0,858.2 1465.6,858.2" fill="#000"/>
<polygon points="1490.0,854.1 1494.2,861.7 1485.8,861.7" fill="#000"/>
<polyline points="1267.8,901.9 1288.0,898.8 1308.2,891.9 1328.4,889.7 1348.6,889.4 1368.8,890.7 1389.0,893.2 1409.2,894.9 1429.4,896.3 1449.6,897.0 1469.8,897.9 1490.0,898.2" fill="none" stroke="#ff1f00" stroke-width="3.0" stroke-linejoin="round"/>
<rect x="1264.3" y="898.4" width="7.0" height="7.0" fill="#000"/>
<rect x="1284.5" y="895.3" width="7.0" height="7.0" fill="#000"/>
<rect x="1304.7" y="888.4" width="7.0" height="7.0" fill="#000"/>
<rect x="1324.9" y="886.2" width="7.0" height="7.0" fill="#000"/>
<rect x="1345.1" y="885.9" width="7.0" height="7.0" fill="#000"/>
<rect x="1365.3" y="887.2" width="7.0" height="7.0" fill="#000"/>
<rect x="1385.5" y="889.7" width="7.0" height="7.0" fill="#000"/>
<rect x="1405.7" y="891.4" width="7.0" height="7.0" fill="#000"/>
<rect x="1425.9" y="892.8" width="7.0" height="7.0" fill="#000"/>
<rect x="1446.1" y="893.5" width="7.0" height="7.0" fill="#000"/>
<rect x="1466.3" y="894.4" width="7.0" height="7.0" fill="#000"/>
<rect x="1486.5" y="894.7" width="7.0" height="7.0" fill="#000"/>
<polyline points="1267.8,901.9 1288.0,898.8 1308.2,889.4 1328.4,876.8 1348.6,862.9 1368.8,851.8 1389.0,847.4 1409.2,844.9 1429.4,844.6 1449.6,845.6 1469.8,848.6 1490.0,853.9" fill="none" stroke="#000" stroke-width="3.5" stroke-linejoin="round"/>
<circle cx="1267.8" cy="901.9" r="3.80" fill="#000"/>
<circle cx="1288.0" cy="898.8" r="3.80" fill="#000"/>
<circle cx="1308.2" cy="889.4" r="3.80" fill="#000"/>
<circle cx="1328.4" cy="876.8" r="3.80" fill="#000"/>
<circle cx="1348.6" cy="862.9" r="3.80" fill="#000"/>
<circle cx="1368.8" cy="851.8" r="3.80" fill="#000"/>
<circle cx="1389.0" cy="847.4" r="3.80" fill="#000"/>
<circle cx="1409.2" cy="844.9" r="3.80" fill="#000"/>
<circle cx="1429.4" cy="844.6" r="3.80" fill="#000"/>
<circle cx="1449.6" cy="845.6" r="3.80" fill="#000"/>
<circle cx="1469.8" cy="848.6" r="3.80" fill="#000"/>
<circle cx="1490.0" cy="853.9" r="3.80" fill="#000"/>
<line x1="1252.6" y1="734.5" x2="1261.8" y2="734.5" stroke="#000" stroke-width="3.4" stroke-linecap="round"/>
<circle cx="1257.2" cy="734.5" r="3.42" fill="#000"/>
<text transform="translate(1266.58,739.10) scale(1.0800,1)" style="font-size:13.00px;font-kerning:none"><tspan style='font-family:"Liberation Sans",sans-serif;font-weight:normal;font-style:normal'>EV18</tspan></text>
<line x1="1252.6" y1="747.2" x2="1261.8" y2="747.2" stroke="#ff1f00" stroke-width="3.4" stroke-linecap="round"/>
<rect x="1254.0" y="744.1" width="6.3" height="6.3" fill="#000"/>
<text transform="translate(1266.58,751.85) scale(1.0800,1)" style="font-size:13.00px;font-kerning:none"><tspan style='font-family:"Liberation Sans",sans-serif;font-weight:normal;font-style:normal'>EV18 Δ</tspan><tspan style='font-family:"Liberation Sans",sans-serif;font-weight:normal;font-style:italic'>marR</tspan></text>
<line x1="1252.6" y1="760.0" x2="1261.8" y2="760.0" stroke="#1f3fff" stroke-width="3.4" stroke-linecap="round"/>
<polygon points="1257.2,756.2 1261.0,763.0 1253.4,763.0" fill="#000"/>
<text transform="translate(1266.58,764.60) scale(1.0800,1)" style="font-size:13.00px;font-kerning:none"><tspan style='font-family:"Liberation Sans",sans-serif;font-weight:normal;font-style:normal'>EV18 Δ</tspan><tspan style='font-family:"Liberation Sans",sans-serif;font-weight:normal;font-style:italic'>soxR</tspan></text>
<line x1="1252.6" y1="772.8" x2="1261.8" y2="772.8" stroke="#ffc86e" stroke-width="3.4" stroke-linecap="round"/>
<polygon points="1257.2,776.5 1261.0,769.7 1253.4,769.7" fill="#000"/>
<text transform="translate(1266.58,777.35) scale(1.0800,1)" style="font-size:13.00px;font-kerning:none"><tspan style='font-family:"Liberation Sans",sans-serif;font-weight:normal;font-style:normal'>EV18 Δ</tspan><tspan style='font-family:"Liberation Sans",sans-serif;font-weight:normal;font-style:italic'>soxS</tspan></text>
<line x1="1252.6" y1="785.5" x2="1261.8" y2="785.5" stroke="#158a4a" stroke-width="3.4" stroke-linecap="round"/>
<polygon points="1257.2,781.9 1260.8,785.5 1257.2,789.1 1253.6,785.5" fill="#000"/>
<text transform="translate(1266.58,790.10) scale(1.0800,1)" style="font-size:13.00px;font-kerning:none"><tspan style='font-family:"Liberation Sans",sans-serif;font-weight:normal;font-style:normal'>EV18 Δ</tspan><tspan style='font-family:"Liberation Sans",sans-serif;font-weight:normal;font-style:italic'>rob</tspan></text>
</svg>
</body></html>
